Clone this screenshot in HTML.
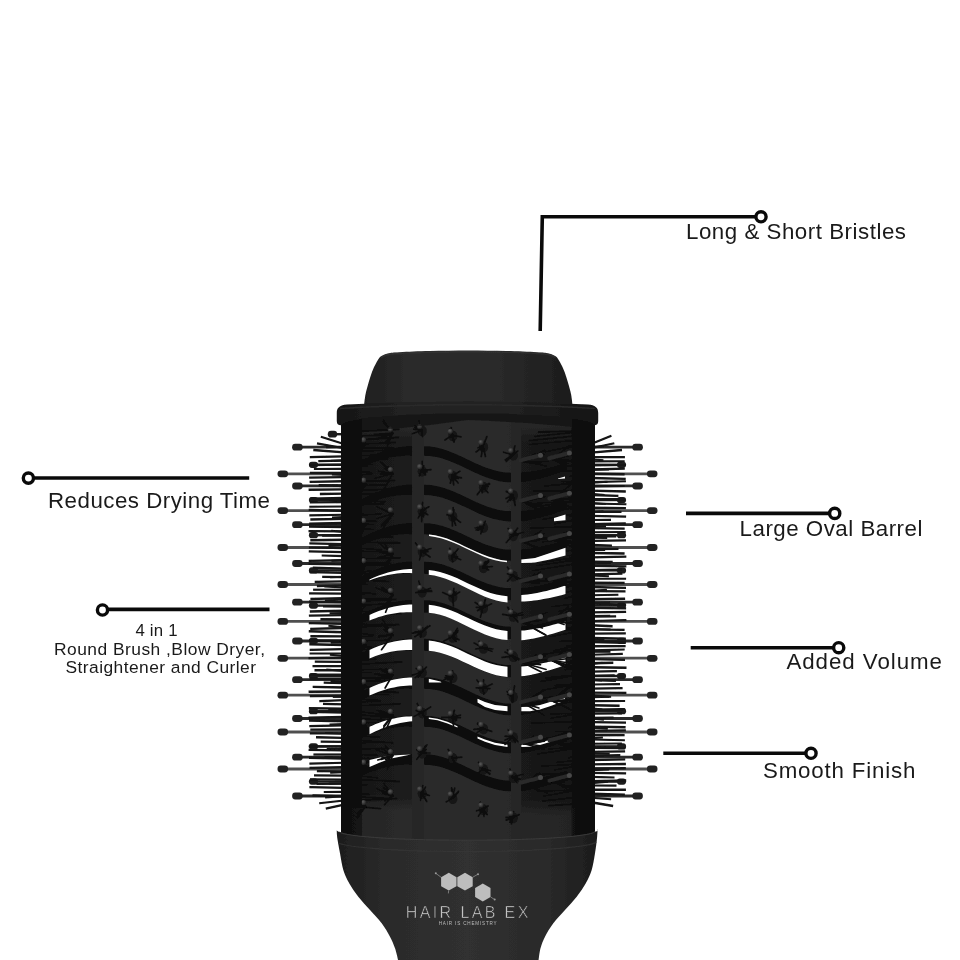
<!DOCTYPE html>
<html lang="en"><head><meta charset="utf-8"><title>Hair Lab EX brush features</title>
<style>
html,body{margin:0;padding:0;background:#fff;}
body{width:960px;height:960px;overflow:hidden;}
svg{display:block;font-family:"Liberation Sans",sans-serif;}
</style></head><body>
<svg width="960" height="960" viewBox="0 0 960 960">
<rect width="960" height="960" fill="#fff"/>
<g id="brush" filter="url(#soft)">
<g id="pins">
<line x1="282.8" y1="473.8" x2="345" y2="473.8" stroke="#505050" stroke-width="2.8"/>
<rect x="277.5" y="470.4" width="10.6" height="6.8" rx="3.2" ry="3.4" fill="#222"/>
<line x1="282.8" y1="510.6" x2="345" y2="510.6" stroke="#505050" stroke-width="2.8"/>
<rect x="277.5" y="507.2" width="10.6" height="6.8" rx="3.2" ry="3.4" fill="#222"/>
<line x1="282.8" y1="547.5" x2="345" y2="547.5" stroke="#505050" stroke-width="2.8"/>
<rect x="277.5" y="544.1" width="10.6" height="6.8" rx="3.2" ry="3.4" fill="#222"/>
<line x1="282.8" y1="584.5" x2="345" y2="584.5" stroke="#505050" stroke-width="2.8"/>
<rect x="277.5" y="581.1" width="10.6" height="6.8" rx="3.2" ry="3.4" fill="#222"/>
<line x1="282.8" y1="621.4" x2="345" y2="621.4" stroke="#505050" stroke-width="2.8"/>
<rect x="277.5" y="618" width="10.6" height="6.8" rx="3.2" ry="3.4" fill="#222"/>
<line x1="282.8" y1="658.2" x2="345" y2="658.2" stroke="#505050" stroke-width="2.8"/>
<rect x="277.5" y="654.9" width="10.6" height="6.8" rx="3.2" ry="3.4" fill="#222"/>
<line x1="282.8" y1="695.1" x2="345" y2="695.1" stroke="#505050" stroke-width="2.8"/>
<rect x="277.5" y="691.8" width="10.6" height="6.8" rx="3.2" ry="3.4" fill="#222"/>
<line x1="282.8" y1="732" x2="345" y2="732" stroke="#505050" stroke-width="2.8"/>
<rect x="277.5" y="728.6" width="10.6" height="6.8" rx="3.2" ry="3.4" fill="#222"/>
<line x1="282.8" y1="769" x2="345" y2="769" stroke="#505050" stroke-width="2.8"/>
<rect x="277.5" y="765.6" width="10.6" height="6.8" rx="3.2" ry="3.4" fill="#222"/>
<line x1="297.4" y1="447.2" x2="345" y2="447.2" stroke="#2a2a2a" stroke-width="2.8"/>
<rect x="292.1" y="443.8" width="10.6" height="6.8" rx="3.2" ry="3.4" fill="#222"/>
<line x1="297.4" y1="485.9" x2="345" y2="485.9" stroke="#2a2a2a" stroke-width="2.8"/>
<rect x="292.1" y="482.6" width="10.6" height="6.8" rx="3.2" ry="3.4" fill="#222"/>
<line x1="297.4" y1="524.7" x2="345" y2="524.7" stroke="#2a2a2a" stroke-width="2.8"/>
<rect x="292.1" y="521.3" width="10.6" height="6.8" rx="3.2" ry="3.4" fill="#222"/>
<line x1="297.4" y1="563.5" x2="345" y2="563.5" stroke="#2a2a2a" stroke-width="2.8"/>
<rect x="292.1" y="560.1" width="10.6" height="6.8" rx="3.2" ry="3.4" fill="#222"/>
<line x1="297.4" y1="602.2" x2="345" y2="602.2" stroke="#2a2a2a" stroke-width="2.8"/>
<rect x="292.1" y="598.8" width="10.6" height="6.8" rx="3.2" ry="3.4" fill="#222"/>
<line x1="297.4" y1="641" x2="345" y2="641" stroke="#2a2a2a" stroke-width="2.8"/>
<rect x="292.1" y="637.6" width="10.6" height="6.8" rx="3.2" ry="3.4" fill="#222"/>
<line x1="297.4" y1="679.7" x2="345" y2="679.7" stroke="#2a2a2a" stroke-width="2.8"/>
<rect x="292.1" y="676.3" width="10.6" height="6.8" rx="3.2" ry="3.4" fill="#222"/>
<line x1="297.4" y1="718.5" x2="345" y2="718.5" stroke="#2a2a2a" stroke-width="2.8"/>
<rect x="292.1" y="715.1" width="10.6" height="6.8" rx="3.2" ry="3.4" fill="#222"/>
<line x1="297.4" y1="757.2" x2="345" y2="757.2" stroke="#2a2a2a" stroke-width="2.8"/>
<rect x="292.1" y="753.8" width="10.6" height="6.8" rx="3.2" ry="3.4" fill="#222"/>
<line x1="297.4" y1="796" x2="345" y2="796" stroke="#2a2a2a" stroke-width="2.8"/>
<rect x="292.1" y="792.6" width="10.6" height="6.8" rx="3.2" ry="3.4" fill="#222"/>
<line x1="313.5" y1="464.8" x2="345" y2="464.8" stroke="#1c1c1c" stroke-width="2.4"/>
<rect x="308.9" y="461.7" width="9.2" height="6.2" rx="2.9" ry="3.1" fill="#1d1d1d"/>
<line x1="313.5" y1="500" x2="345" y2="500" stroke="#1c1c1c" stroke-width="2.4"/>
<rect x="308.9" y="496.9" width="9.2" height="6.2" rx="2.9" ry="3.1" fill="#1d1d1d"/>
<line x1="313.5" y1="535.2" x2="345" y2="535.2" stroke="#1c1c1c" stroke-width="2.4"/>
<rect x="308.9" y="532.1" width="9.2" height="6.2" rx="2.9" ry="3.1" fill="#1d1d1d"/>
<line x1="313.5" y1="570.4" x2="345" y2="570.4" stroke="#1c1c1c" stroke-width="2.4"/>
<rect x="308.9" y="567.3" width="9.2" height="6.2" rx="2.9" ry="3.1" fill="#1d1d1d"/>
<line x1="313.5" y1="605.6" x2="345" y2="605.6" stroke="#1c1c1c" stroke-width="2.4"/>
<rect x="308.9" y="602.5" width="9.2" height="6.2" rx="2.9" ry="3.1" fill="#1d1d1d"/>
<line x1="313.5" y1="640.8" x2="345" y2="640.8" stroke="#1c1c1c" stroke-width="2.4"/>
<rect x="308.9" y="637.7" width="9.2" height="6.2" rx="2.9" ry="3.1" fill="#1d1d1d"/>
<line x1="313.5" y1="676" x2="345" y2="676" stroke="#1c1c1c" stroke-width="2.4"/>
<rect x="308.9" y="672.9" width="9.2" height="6.2" rx="2.9" ry="3.1" fill="#1d1d1d"/>
<line x1="313.5" y1="711.2" x2="345" y2="711.2" stroke="#1c1c1c" stroke-width="2.4"/>
<rect x="308.9" y="708.1" width="9.2" height="6.2" rx="2.9" ry="3.1" fill="#1d1d1d"/>
<line x1="313.5" y1="746.4" x2="345" y2="746.4" stroke="#1c1c1c" stroke-width="2.4"/>
<rect x="308.9" y="743.3" width="9.2" height="6.2" rx="2.9" ry="3.1" fill="#1d1d1d"/>
<line x1="313.5" y1="781.6" x2="345" y2="781.6" stroke="#1c1c1c" stroke-width="2.4"/>
<rect x="308.9" y="778.5" width="9.2" height="6.2" rx="2.9" ry="3.1" fill="#1d1d1d"/>
<line x1="332.5" y1="434.2" x2="345" y2="434.2" stroke="#1c1c1c" stroke-width="2.4"/>
<rect x="327.8" y="430.8" width="9.4" height="6.8" rx="3.2" ry="3.4" fill="#1d1d1d"/>
<line x1="652.2" y1="473.8" x2="590" y2="473.8" stroke="#505050" stroke-width="2.8"/>
<rect x="646.9" y="470.4" width="10.6" height="6.8" rx="3.2" ry="3.4" fill="#222"/>
<line x1="652.2" y1="510.6" x2="590" y2="510.6" stroke="#505050" stroke-width="2.8"/>
<rect x="646.9" y="507.2" width="10.6" height="6.8" rx="3.2" ry="3.4" fill="#222"/>
<line x1="652.2" y1="547.5" x2="590" y2="547.5" stroke="#505050" stroke-width="2.8"/>
<rect x="646.9" y="544.1" width="10.6" height="6.8" rx="3.2" ry="3.4" fill="#222"/>
<line x1="652.2" y1="584.5" x2="590" y2="584.5" stroke="#505050" stroke-width="2.8"/>
<rect x="646.9" y="581.1" width="10.6" height="6.8" rx="3.2" ry="3.4" fill="#222"/>
<line x1="652.2" y1="621.4" x2="590" y2="621.4" stroke="#505050" stroke-width="2.8"/>
<rect x="646.9" y="618" width="10.6" height="6.8" rx="3.2" ry="3.4" fill="#222"/>
<line x1="652.2" y1="658.2" x2="590" y2="658.2" stroke="#505050" stroke-width="2.8"/>
<rect x="646.9" y="654.9" width="10.6" height="6.8" rx="3.2" ry="3.4" fill="#222"/>
<line x1="652.2" y1="695.1" x2="590" y2="695.1" stroke="#505050" stroke-width="2.8"/>
<rect x="646.9" y="691.8" width="10.6" height="6.8" rx="3.2" ry="3.4" fill="#222"/>
<line x1="652.2" y1="732" x2="590" y2="732" stroke="#505050" stroke-width="2.8"/>
<rect x="646.9" y="728.6" width="10.6" height="6.8" rx="3.2" ry="3.4" fill="#222"/>
<line x1="652.2" y1="769" x2="590" y2="769" stroke="#505050" stroke-width="2.8"/>
<rect x="646.9" y="765.6" width="10.6" height="6.8" rx="3.2" ry="3.4" fill="#222"/>
<line x1="637.6" y1="447.2" x2="590" y2="447.2" stroke="#2a2a2a" stroke-width="2.8"/>
<rect x="632.3" y="443.8" width="10.6" height="6.8" rx="3.2" ry="3.4" fill="#222"/>
<line x1="637.6" y1="485.9" x2="590" y2="485.9" stroke="#2a2a2a" stroke-width="2.8"/>
<rect x="632.3" y="482.6" width="10.6" height="6.8" rx="3.2" ry="3.4" fill="#222"/>
<line x1="637.6" y1="524.7" x2="590" y2="524.7" stroke="#2a2a2a" stroke-width="2.8"/>
<rect x="632.3" y="521.3" width="10.6" height="6.8" rx="3.2" ry="3.4" fill="#222"/>
<line x1="637.6" y1="563.5" x2="590" y2="563.5" stroke="#2a2a2a" stroke-width="2.8"/>
<rect x="632.3" y="560.1" width="10.6" height="6.8" rx="3.2" ry="3.4" fill="#222"/>
<line x1="637.6" y1="602.2" x2="590" y2="602.2" stroke="#2a2a2a" stroke-width="2.8"/>
<rect x="632.3" y="598.8" width="10.6" height="6.8" rx="3.2" ry="3.4" fill="#222"/>
<line x1="637.6" y1="641" x2="590" y2="641" stroke="#2a2a2a" stroke-width="2.8"/>
<rect x="632.3" y="637.6" width="10.6" height="6.8" rx="3.2" ry="3.4" fill="#222"/>
<line x1="637.6" y1="679.7" x2="590" y2="679.7" stroke="#2a2a2a" stroke-width="2.8"/>
<rect x="632.3" y="676.3" width="10.6" height="6.8" rx="3.2" ry="3.4" fill="#222"/>
<line x1="637.6" y1="718.5" x2="590" y2="718.5" stroke="#2a2a2a" stroke-width="2.8"/>
<rect x="632.3" y="715.1" width="10.6" height="6.8" rx="3.2" ry="3.4" fill="#222"/>
<line x1="637.6" y1="757.2" x2="590" y2="757.2" stroke="#2a2a2a" stroke-width="2.8"/>
<rect x="632.3" y="753.8" width="10.6" height="6.8" rx="3.2" ry="3.4" fill="#222"/>
<line x1="637.6" y1="796" x2="590" y2="796" stroke="#2a2a2a" stroke-width="2.8"/>
<rect x="632.3" y="792.6" width="10.6" height="6.8" rx="3.2" ry="3.4" fill="#222"/>
<line x1="621.5" y1="464.8" x2="590" y2="464.8" stroke="#1c1c1c" stroke-width="2.4"/>
<rect x="616.9" y="461.7" width="9.2" height="6.2" rx="2.9" ry="3.1" fill="#1d1d1d"/>
<line x1="621.5" y1="500" x2="590" y2="500" stroke="#1c1c1c" stroke-width="2.4"/>
<rect x="616.9" y="496.9" width="9.2" height="6.2" rx="2.9" ry="3.1" fill="#1d1d1d"/>
<line x1="621.5" y1="535.2" x2="590" y2="535.2" stroke="#1c1c1c" stroke-width="2.4"/>
<rect x="616.9" y="532.1" width="9.2" height="6.2" rx="2.9" ry="3.1" fill="#1d1d1d"/>
<line x1="621.5" y1="570.4" x2="590" y2="570.4" stroke="#1c1c1c" stroke-width="2.4"/>
<rect x="616.9" y="567.3" width="9.2" height="6.2" rx="2.9" ry="3.1" fill="#1d1d1d"/>
<line x1="621.5" y1="605.6" x2="590" y2="605.6" stroke="#1c1c1c" stroke-width="2.4"/>
<rect x="616.9" y="602.5" width="9.2" height="6.2" rx="2.9" ry="3.1" fill="#1d1d1d"/>
<line x1="621.5" y1="640.8" x2="590" y2="640.8" stroke="#1c1c1c" stroke-width="2.4"/>
<rect x="616.9" y="637.7" width="9.2" height="6.2" rx="2.9" ry="3.1" fill="#1d1d1d"/>
<line x1="621.5" y1="676" x2="590" y2="676" stroke="#1c1c1c" stroke-width="2.4"/>
<rect x="616.9" y="672.9" width="9.2" height="6.2" rx="2.9" ry="3.1" fill="#1d1d1d"/>
<line x1="621.5" y1="711.2" x2="590" y2="711.2" stroke="#1c1c1c" stroke-width="2.4"/>
<rect x="616.9" y="708.1" width="9.2" height="6.2" rx="2.9" ry="3.1" fill="#1d1d1d"/>
<line x1="621.5" y1="746.4" x2="590" y2="746.4" stroke="#1c1c1c" stroke-width="2.4"/>
<rect x="616.9" y="743.3" width="9.2" height="6.2" rx="2.9" ry="3.1" fill="#1d1d1d"/>
<line x1="621.5" y1="781.6" x2="590" y2="781.6" stroke="#1c1c1c" stroke-width="2.4"/>
<rect x="616.9" y="778.5" width="9.2" height="6.2" rx="2.9" ry="3.1" fill="#1d1d1d"/>
</g>
<g id="bristles" stroke="#131313" stroke-linecap="butt">
<line x1="320.8" y1="436.8" x2="344" y2="444" stroke-width="2.1"/>
<line x1="317" y1="443.4" x2="344" y2="448.2" stroke-width="2.1"/>
<line x1="313.3" y1="450" x2="344" y2="452.4" stroke-width="2.4"/>
<line x1="309.8" y1="457.2" x2="344" y2="456.4" stroke-width="2.3"/>
<line x1="318.3" y1="461.2" x2="344" y2="460.6" stroke-width="2.2"/>
<line x1="309.1" y1="465.2" x2="344" y2="464.7" stroke-width="2.2"/>
<line x1="313.9" y1="469" x2="344" y2="468.9" stroke-width="2.1"/>
<line x1="309.9" y1="472.8" x2="344" y2="472.9" stroke-width="2.2"/>
<line x1="309.1" y1="477.7" x2="344" y2="477.1" stroke-width="2.3"/>
<line x1="309.6" y1="481.9" x2="344" y2="481.2" stroke-width="2.4"/>
<line x1="318.7" y1="485.2" x2="344" y2="485.4" stroke-width="2.4"/>
<line x1="308.6" y1="489.7" x2="344" y2="489.4" stroke-width="2.4"/>
<line x1="319.9" y1="494" x2="344" y2="493.6" stroke-width="2.3"/>
<line x1="310.2" y1="498.7" x2="344" y2="497.9" stroke-width="2.3"/>
<line x1="309.9" y1="502.4" x2="344" y2="502.1" stroke-width="2.4"/>
<line x1="309.3" y1="506.8" x2="344" y2="506.5" stroke-width="2.1"/>
<line x1="308.7" y1="509.9" x2="344" y2="510.7" stroke-width="2.4"/>
<line x1="309.3" y1="515.4" x2="344" y2="514.7" stroke-width="2.1"/>
<line x1="310.3" y1="519.5" x2="344" y2="518.9" stroke-width="2.4"/>
<line x1="309.2" y1="523.7" x2="344" y2="523" stroke-width="2.4"/>
<line x1="309" y1="526.6" x2="344" y2="527.1" stroke-width="2.3"/>
<line x1="308.5" y1="531.2" x2="344" y2="531.3" stroke-width="2.2"/>
<line x1="322.1" y1="535.6" x2="344" y2="535.5" stroke-width="2.3"/>
<line x1="310.3" y1="540.3" x2="344" y2="539.8" stroke-width="2.4"/>
<line x1="309.3" y1="543.4" x2="344" y2="544.1" stroke-width="2.3"/>
<line x1="308.9" y1="547.5" x2="344" y2="548.1" stroke-width="2.2"/>
<line x1="308.8" y1="551.4" x2="344" y2="552.2" stroke-width="2.2"/>
<line x1="321.7" y1="555.5" x2="344" y2="556.2" stroke-width="2.2"/>
<line x1="308.7" y1="560.9" x2="344" y2="560.3" stroke-width="2.4"/>
<line x1="308.7" y1="563.8" x2="344" y2="564.5" stroke-width="2.2"/>
<line x1="312.8" y1="567.7" x2="344" y2="568.6" stroke-width="2.4"/>
<line x1="309.6" y1="572" x2="344" y2="572.8" stroke-width="2.3"/>
<line x1="322.2" y1="576.8" x2="344" y2="577.2" stroke-width="2.2"/>
<line x1="314.7" y1="581.8" x2="344" y2="581.3" stroke-width="2.2"/>
<line x1="316.9" y1="586" x2="344" y2="585.4" stroke-width="2.4"/>
<line x1="313.1" y1="589.7" x2="344" y2="589.7" stroke-width="2.2"/>
<line x1="309.1" y1="593.3" x2="344" y2="593.7" stroke-width="2.3"/>
<line x1="310.4" y1="599" x2="344" y2="598.1" stroke-width="2.4"/>
<line x1="309" y1="601.7" x2="344" y2="602.2" stroke-width="2.2"/>
<line x1="323" y1="606.4" x2="344" y2="606.5" stroke-width="2.3"/>
<line x1="309.8" y1="611.5" x2="344" y2="610.8" stroke-width="2.4"/>
<line x1="308.9" y1="615.6" x2="344" y2="615.1" stroke-width="2.2"/>
<line x1="320.4" y1="619.2" x2="344" y2="619.4" stroke-width="2.4"/>
<line x1="308.8" y1="623.1" x2="344" y2="623.7" stroke-width="2.4"/>
<line x1="310.2" y1="628.9" x2="344" y2="628" stroke-width="2.3"/>
<line x1="308.8" y1="631.3" x2="344" y2="632.2" stroke-width="2.4"/>
<line x1="310.4" y1="636.3" x2="344" y2="636.4" stroke-width="2.4"/>
<line x1="309" y1="640.4" x2="344" y2="640.8" stroke-width="2.2"/>
<line x1="309.3" y1="644.3" x2="344" y2="645" stroke-width="2.4"/>
<line x1="309.7" y1="649.9" x2="344" y2="649.1" stroke-width="2.2"/>
<line x1="309.6" y1="653.5" x2="344" y2="653.5" stroke-width="2.1"/>
<line x1="308.5" y1="658.2" x2="344" y2="657.7" stroke-width="2.2"/>
<line x1="314.8" y1="661.6" x2="344" y2="661.9" stroke-width="2.3"/>
<line x1="312.5" y1="666.2" x2="344" y2="666.1" stroke-width="2.2"/>
<line x1="314.5" y1="670.3" x2="344" y2="670.2" stroke-width="2.4"/>
<line x1="309.7" y1="674.6" x2="344" y2="674.6" stroke-width="2.3"/>
<line x1="309.6" y1="678.8" x2="344" y2="678.8" stroke-width="2.4"/>
<line x1="323.7" y1="682.7" x2="344" y2="683.1" stroke-width="2.3"/>
<line x1="312.7" y1="686.8" x2="344" y2="687.5" stroke-width="2.3"/>
<line x1="308.6" y1="691.8" x2="344" y2="691.5" stroke-width="2.4"/>
<line x1="309.9" y1="696.2" x2="344" y2="695.9" stroke-width="2.2"/>
<line x1="319.3" y1="701.1" x2="344" y2="700.2" stroke-width="2.2"/>
<line x1="323" y1="703.8" x2="344" y2="704.4" stroke-width="2.3"/>
<line x1="308.9" y1="708.3" x2="344" y2="708.6" stroke-width="2.4"/>
<line x1="309.4" y1="711.8" x2="344" y2="712.7" stroke-width="2.2"/>
<line x1="308.6" y1="717.8" x2="344" y2="716.9" stroke-width="2.4"/>
<line x1="309" y1="720.5" x2="344" y2="721.3" stroke-width="2.4"/>
<line x1="309.3" y1="726.1" x2="344" y2="725.4" stroke-width="2.4"/>
<line x1="310.3" y1="729.6" x2="344" y2="729.5" stroke-width="2.3"/>
<line x1="309.9" y1="733.4" x2="344" y2="733.5" stroke-width="2.1"/>
<line x1="316" y1="737.2" x2="344" y2="737.9" stroke-width="2.4"/>
<line x1="320.7" y1="741.6" x2="344" y2="741.9" stroke-width="2.3"/>
<line x1="308.8" y1="746.4" x2="344" y2="746.3" stroke-width="2.2"/>
<line x1="308.6" y1="749.8" x2="344" y2="750.4" stroke-width="2.2"/>
<line x1="313.4" y1="754.5" x2="344" y2="754.5" stroke-width="2.2"/>
<line x1="309" y1="757.7" x2="344" y2="758.6" stroke-width="2.4"/>
<line x1="309.4" y1="763.6" x2="344" y2="762.8" stroke-width="2.1"/>
<line x1="309.5" y1="767.8" x2="344" y2="767.2" stroke-width="2.2"/>
<line x1="316.9" y1="771.1" x2="344" y2="771.4" stroke-width="2.4"/>
<line x1="314" y1="775.4" x2="344" y2="775.6" stroke-width="2.1"/>
<line x1="310" y1="779.3" x2="344" y2="779.7" stroke-width="2.2"/>
<line x1="316.4" y1="784" x2="344" y2="783.7" stroke-width="2.2"/>
<line x1="309.4" y1="787.2" x2="344" y2="787.8" stroke-width="2.3"/>
<line x1="323.8" y1="792" x2="344" y2="791.9" stroke-width="2.2"/>
<line x1="312.5" y1="795.4" x2="344" y2="796.3" stroke-width="2.2"/>
<line x1="319.2" y1="803.3" x2="344" y2="800.5" stroke-width="2.1"/>
<line x1="325.8" y1="808.6" x2="344" y2="804.6" stroke-width="2.1"/>
<line x1="326.1" y1="447.3" x2="344" y2="447" stroke-width="2"/>
<line x1="330.8" y1="460.7" x2="344" y2="460.2" stroke-width="2"/>
<line x1="331.9" y1="474.6" x2="344" y2="475" stroke-width="2"/>
<line x1="332.9" y1="485.5" x2="344" y2="486.6" stroke-width="2"/>
<line x1="329.8" y1="500" x2="344" y2="501.4" stroke-width="2"/>
<line x1="332" y1="517.4" x2="344" y2="517" stroke-width="2"/>
<line x1="331.3" y1="530.8" x2="344" y2="531.9" stroke-width="2"/>
<line x1="328.5" y1="546.1" x2="344" y2="545.1" stroke-width="2"/>
<line x1="331.4" y1="560.8" x2="344" y2="560.5" stroke-width="2"/>
<line x1="330.1" y1="577.3" x2="344" y2="576.7" stroke-width="2"/>
<line x1="324.3" y1="586.4" x2="344" y2="587.5" stroke-width="2"/>
<line x1="324.9" y1="600.4" x2="344" y2="599.4" stroke-width="2"/>
<line x1="329.6" y1="613.3" x2="344" y2="612.9" stroke-width="2"/>
<line x1="328.4" y1="625.8" x2="344" y2="627.3" stroke-width="2"/>
<line x1="330.7" y1="642.7" x2="344" y2="642.7" stroke-width="2"/>
<line x1="329.9" y1="654.7" x2="344" y2="656" stroke-width="2"/>
<line x1="326.3" y1="669.6" x2="344" y2="670.9" stroke-width="2"/>
<line x1="330.6" y1="681.1" x2="344" y2="682" stroke-width="2"/>
<line x1="332.8" y1="696.9" x2="344" y2="696.9" stroke-width="2"/>
<line x1="328.3" y1="709.5" x2="344" y2="709" stroke-width="2"/>
<line x1="329.6" y1="724.6" x2="344" y2="724.1" stroke-width="2"/>
<line x1="325.3" y1="733" x2="344" y2="733.7" stroke-width="2"/>
<line x1="326.7" y1="748.9" x2="344" y2="748.7" stroke-width="2"/>
<line x1="324.5" y1="757.1" x2="344" y2="757.8" stroke-width="2"/>
<line x1="330.2" y1="772.7" x2="344" y2="772.2" stroke-width="2"/>
<line x1="328.6" y1="783.4" x2="344" y2="783.5" stroke-width="2"/>
<line x1="325.1" y1="797.4" x2="344" y2="796.2" stroke-width="2"/>
<line x1="611.4" y1="435.7" x2="591" y2="444" stroke-width="2.3"/>
<line x1="614.3" y1="443.2" x2="591" y2="448.3" stroke-width="2.2"/>
<line x1="622" y1="450" x2="591" y2="452.7" stroke-width="2.3"/>
<line x1="624.9" y1="457.1" x2="591" y2="457.1" stroke-width="2.4"/>
<line x1="624.7" y1="461.3" x2="591" y2="461.4" stroke-width="2.1"/>
<line x1="625.6" y1="465" x2="591" y2="465.4" stroke-width="2.1"/>
<line x1="624.8" y1="468.6" x2="591" y2="469.5" stroke-width="2.4"/>
<line x1="624.6" y1="474.2" x2="591" y2="473.8" stroke-width="2.4"/>
<line x1="625.7" y1="478.9" x2="591" y2="478" stroke-width="2.3"/>
<line x1="625.9" y1="481.3" x2="591" y2="482.1" stroke-width="2.1"/>
<line x1="624.6" y1="486" x2="591" y2="486.4" stroke-width="2.2"/>
<line x1="625.8" y1="491.5" x2="591" y2="490.6" stroke-width="2.4"/>
<line x1="618.4" y1="495.8" x2="591" y2="495" stroke-width="2.3"/>
<line x1="625" y1="499.2" x2="591" y2="499.3" stroke-width="2.4"/>
<line x1="626.4" y1="504.3" x2="591" y2="503.5" stroke-width="2.1"/>
<line x1="625.9" y1="508.1" x2="591" y2="507.7" stroke-width="2.4"/>
<line x1="621.5" y1="511.9" x2="591" y2="511.8" stroke-width="2.2"/>
<line x1="626.1" y1="516.6" x2="591" y2="515.9" stroke-width="2.3"/>
<line x1="611" y1="519.9" x2="591" y2="520" stroke-width="2.1"/>
<line x1="625.8" y1="523.3" x2="591" y2="524" stroke-width="2.2"/>
<line x1="624.7" y1="528.6" x2="591" y2="528.1" stroke-width="2.2"/>
<line x1="625.7" y1="532" x2="591" y2="532.3" stroke-width="2.1"/>
<line x1="616.2" y1="536.4" x2="591" y2="536.4" stroke-width="2.3"/>
<line x1="626" y1="540.3" x2="591" y2="540.8" stroke-width="2.2"/>
<line x1="611.9" y1="545.6" x2="591" y2="544.9" stroke-width="2.1"/>
<line x1="618.5" y1="548.9" x2="591" y2="549" stroke-width="2.3"/>
<line x1="624.6" y1="553.5" x2="591" y2="553" stroke-width="2.4"/>
<line x1="626.3" y1="556.7" x2="591" y2="557.3" stroke-width="2.3"/>
<line x1="612.7" y1="561.9" x2="591" y2="561.6" stroke-width="2.4"/>
<line x1="626.4" y1="566.3" x2="591" y2="565.8" stroke-width="2.2"/>
<line x1="621.5" y1="569.5" x2="591" y2="570.2" stroke-width="2.2"/>
<line x1="622.4" y1="573.6" x2="591" y2="574.4" stroke-width="2.3"/>
<line x1="626.1" y1="578.8" x2="591" y2="578.7" stroke-width="2.1"/>
<line x1="624.6" y1="583" x2="591" y2="582.8" stroke-width="2.4"/>
<line x1="626" y1="587.8" x2="591" y2="587" stroke-width="2.3"/>
<line x1="625.5" y1="591.4" x2="591" y2="591.1" stroke-width="2.2"/>
<line x1="618.4" y1="594.7" x2="591" y2="595.2" stroke-width="2.1"/>
<line x1="625.1" y1="598.8" x2="591" y2="599.3" stroke-width="2.4"/>
<line x1="626.1" y1="604.5" x2="591" y2="603.6" stroke-width="2.2"/>
<line x1="626.1" y1="608.4" x2="591" y2="607.9" stroke-width="2.2"/>
<line x1="626.1" y1="611.8" x2="591" y2="612.3" stroke-width="2.2"/>
<line x1="616.1" y1="616.4" x2="591" y2="616.6" stroke-width="2.2"/>
<line x1="626.4" y1="620.2" x2="591" y2="621" stroke-width="2.2"/>
<line x1="612.6" y1="626.2" x2="591" y2="625.3" stroke-width="2.4"/>
<line x1="624.6" y1="629.9" x2="591" y2="629.5" stroke-width="2.1"/>
<line x1="625.8" y1="633.4" x2="591" y2="633.7" stroke-width="2.2"/>
<line x1="625.8" y1="638.6" x2="591" y2="637.7" stroke-width="2.1"/>
<line x1="625.8" y1="642.7" x2="591" y2="642.1" stroke-width="2.4"/>
<line x1="625.6" y1="646.1" x2="591" y2="646.3" stroke-width="2.4"/>
<line x1="624.7" y1="649.5" x2="591" y2="650.4" stroke-width="2.2"/>
<line x1="622.8" y1="653.9" x2="591" y2="654.7" stroke-width="2.1"/>
<line x1="625" y1="659.8" x2="591" y2="659.1" stroke-width="2.2"/>
<line x1="613.3" y1="662.8" x2="591" y2="663.2" stroke-width="2.4"/>
<line x1="626.5" y1="667.8" x2="591" y2="667.3" stroke-width="2.4"/>
<line x1="616.9" y1="671.1" x2="591" y2="671.6" stroke-width="2.3"/>
<line x1="614.7" y1="675.5" x2="591" y2="675.9" stroke-width="2.3"/>
<line x1="615.9" y1="680.7" x2="591" y2="680.1" stroke-width="2.4"/>
<line x1="620" y1="684.2" x2="591" y2="684.5" stroke-width="2.2"/>
<line x1="622.6" y1="688.1" x2="591" y2="688.6" stroke-width="2.4"/>
<line x1="626.4" y1="692.8" x2="591" y2="692.7" stroke-width="2.2"/>
<line x1="611.1" y1="696.7" x2="591" y2="697.1" stroke-width="2.1"/>
<line x1="625.1" y1="701" x2="591" y2="701.1" stroke-width="2.2"/>
<line x1="619.6" y1="705.8" x2="591" y2="705.3" stroke-width="2.4"/>
<line x1="624.8" y1="709.2" x2="591" y2="709.6" stroke-width="2.3"/>
<line x1="622" y1="713.3" x2="591" y2="713.7" stroke-width="2.2"/>
<line x1="613.5" y1="717.5" x2="591" y2="717.8" stroke-width="2.2"/>
<line x1="626" y1="722.7" x2="591" y2="722.2" stroke-width="2.3"/>
<line x1="625.6" y1="727.2" x2="591" y2="726.6" stroke-width="2.4"/>
<line x1="625.9" y1="730.3" x2="591" y2="730.9" stroke-width="2.2"/>
<line x1="624.6" y1="735.1" x2="591" y2="735.3" stroke-width="2.4"/>
<line x1="624.9" y1="740.3" x2="591" y2="739.5" stroke-width="2.1"/>
<line x1="621.9" y1="743.5" x2="591" y2="743.8" stroke-width="2.1"/>
<line x1="625.3" y1="748.1" x2="591" y2="747.8" stroke-width="2.2"/>
<line x1="625.1" y1="751.3" x2="591" y2="751.8" stroke-width="2.2"/>
<line x1="620.3" y1="755.1" x2="591" y2="755.9" stroke-width="2.1"/>
<line x1="625.2" y1="759.3" x2="591" y2="760.1" stroke-width="2.2"/>
<line x1="625.9" y1="764" x2="591" y2="764.4" stroke-width="2.4"/>
<line x1="625.8" y1="768.3" x2="591" y2="768.5" stroke-width="2.4"/>
<line x1="626.1" y1="773.3" x2="591" y2="772.9" stroke-width="2.2"/>
<line x1="614.5" y1="777.5" x2="591" y2="776.9" stroke-width="2.2"/>
<line x1="626.2" y1="780.4" x2="591" y2="781.2" stroke-width="2.3"/>
<line x1="616.5" y1="785.7" x2="591" y2="785.5" stroke-width="2.2"/>
<line x1="625.9" y1="789.7" x2="591" y2="789.7" stroke-width="2.4"/>
<line x1="624.9" y1="794.6" x2="591" y2="793.7" stroke-width="2.2"/>
<line x1="611.1" y1="799.2" x2="591" y2="797.8" stroke-width="2.1"/>
<line x1="613.1" y1="806" x2="591" y2="802.2" stroke-width="2.4"/>
<line x1="603.9" y1="446.2" x2="591" y2="447" stroke-width="2"/>
<line x1="603.4" y1="460.2" x2="591" y2="459.2" stroke-width="2"/>
<line x1="609" y1="469.4" x2="591" y2="469.7" stroke-width="2"/>
<line x1="607.5" y1="481.7" x2="591" y2="482.8" stroke-width="2"/>
<line x1="604.5" y1="495" x2="591" y2="493.8" stroke-width="2"/>
<line x1="605.9" y1="503.9" x2="591" y2="503.1" stroke-width="2"/>
<line x1="603.5" y1="511.3" x2="591" y2="512.5" stroke-width="2"/>
<line x1="606" y1="526.6" x2="591" y2="526.2" stroke-width="2"/>
<line x1="607.2" y1="537.9" x2="591" y2="537.7" stroke-width="2"/>
<line x1="605.1" y1="549.9" x2="591" y2="550.1" stroke-width="2"/>
<line x1="610.8" y1="563" x2="591" y2="562.6" stroke-width="2"/>
<line x1="608.9" y1="576.3" x2="591" y2="575.5" stroke-width="2"/>
<line x1="606.9" y1="589.8" x2="591" y2="590.8" stroke-width="2"/>
<line x1="610" y1="602.4" x2="591" y2="603.6" stroke-width="2"/>
<line x1="610.2" y1="615.8" x2="591" y2="616" stroke-width="2"/>
<line x1="610.6" y1="629.5" x2="591" y2="629.1" stroke-width="2"/>
<line x1="604.4" y1="639.6" x2="591" y2="638.7" stroke-width="2"/>
<line x1="610.5" y1="651.8" x2="591" y2="651.8" stroke-width="2"/>
<line x1="602.4" y1="662.8" x2="591" y2="663.9" stroke-width="2"/>
<line x1="602" y1="680.4" x2="591" y2="679.7" stroke-width="2"/>
<line x1="609.3" y1="696.7" x2="591" y2="695.2" stroke-width="2"/>
<line x1="602.4" y1="709.4" x2="591" y2="708.2" stroke-width="2"/>
<line x1="603.9" y1="719.8" x2="591" y2="718.5" stroke-width="2"/>
<line x1="607.8" y1="728.8" x2="591" y2="728" stroke-width="2"/>
<line x1="602.9" y1="737.6" x2="591" y2="738.3" stroke-width="2"/>
<line x1="609.7" y1="753.8" x2="591" y2="753.8" stroke-width="2"/>
<line x1="609.1" y1="769.5" x2="591" y2="770.2" stroke-width="2"/>
<line x1="608.1" y1="781.8" x2="591" y2="783.2" stroke-width="2"/>
<line x1="609.5" y1="795" x2="591" y2="793.7" stroke-width="2"/>
</g>
<defs>
<linearGradient id="gBody" x1="0" x2="1" y1="0" y2="0">
<stop offset="0" stop-color="#0f0f0f"/><stop offset="0.08" stop-color="#131313"/>
<stop offset="0.085" stop-color="#262626"/><stop offset="0.3" stop-color="#2b2b2b"/>
<stop offset="0.6" stop-color="#2a2a2a"/><stop offset="0.905" stop-color="#242424"/>
<stop offset="0.91" stop-color="#121212"/><stop offset="1" stop-color="#0d0d0d"/>
</linearGradient>
<linearGradient id="gDk" x1="0" x2="0" y1="0" y2="1">
<stop offset="0" stop-color="#0b0b0b" stop-opacity="0"/><stop offset="0.04" stop-color="#0b0b0b" stop-opacity="0.5"/>
<stop offset="0.96" stop-color="#0b0b0b" stop-opacity="0.5"/><stop offset="1" stop-color="#0b0b0b" stop-opacity="0"/>
</linearGradient>
<linearGradient id="gCap" x1="0" x2="1" y1="0" y2="0">
<stop offset="0" stop-color="#1f1f1f"/><stop offset="0.25" stop-color="#2c2c2c"/><stop offset="0.6" stop-color="#2b2b2b"/><stop offset="1" stop-color="#1c1c1c"/>
</linearGradient>
<linearGradient id="gFl" x1="0" x2="1" y1="0" y2="0">
<stop offset="0" stop-color="#161616"/><stop offset="0.3" stop-color="#232323"/><stop offset="0.7" stop-color="#202020"/><stop offset="1" stop-color="#131313"/>
</linearGradient>
<linearGradient id="gCol" x1="0" x2="1" y1="0" y2="0">
<stop offset="0" stop-color="#1d1d1d"/><stop offset="0.2" stop-color="#2b2b2b"/><stop offset="0.5" stop-color="#303030"/><stop offset="0.8" stop-color="#2a2a2a"/><stop offset="1" stop-color="#1c1c1c"/>
</linearGradient>
<filter id="soft" x="0" y="0" width="960" height="960" filterUnits="userSpaceOnUse"><feGaussianBlur stdDeviation="0.45"/></filter>
<radialGradient id="gNub" cx="0.4" cy="0.35" r="0.7">
<stop offset="0" stop-color="#5a5a5a"/><stop offset="0.6" stop-color="#333"/><stop offset="1" stop-color="#1a1a1a"/>
</radialGradient>
</defs>
<rect x="341" y="412" width="254" height="434" fill="url(#gBody)"/>
<g id="slots" fill="#0b0b0b">
<polygon points="362,460.5 365.6,458.6 369.2,456.8 372.8,455.2 376.4,453.7 380,452.4 383.6,451.1 387.1,450 390.7,449.1 394.3,448.2 397.9,447.5 401.5,447 405.1,446.6 408.7,446.3 412.3,446.2 412.3,455.7 408.7,455.6 405.1,455.6 401.5,455.9 397.9,456.2 394.3,456.7 390.7,457.3 387.1,458.1 383.6,459 380,460 376.4,461.2 372.8,462.5 369.2,463.9 365.6,465.4 362,467.1"/>
<polygon points="424,446.2 430.2,446.5 436.4,447.5 442.6,449.1 448.9,451.2 455.1,453.7 461.3,456.5 467.5,459.4 473.7,462.4 479.9,465.2 486.1,467.7 492.4,469.8 498.6,471.4 504.8,472.4 511,472.7 511,482.2 504.8,481.9 498.6,480.9 492.4,479.3 486.1,477.2 479.9,474.7 473.7,471.9 467.5,468.9 461.3,466 455.1,463.2 448.9,460.7 442.6,458.6 436.4,457 430.2,456 424,455.7"/>
<polygon points="521,472.5 524.3,472.3 527.6,472 530.9,471.5 534.1,471 537.4,470.4 540.7,469.7 544,469 547.3,468.2 550.6,467.4 553.9,466.5 557.1,465.5 560.4,464.6 563.7,463.6 567,462.5 567,470.1 563.7,471.3 560.4,472.4 557.1,473.6 553.9,474.6 550.6,475.6 547.3,476.6 544,477.5 540.7,478.4 537.4,479.2 534.1,479.9 530.9,480.6 527.6,481.2 524.3,481.7 521,482"/>
<polygon points="362,499 365.6,497.1 369.2,495.3 372.8,493.7 376.4,492.2 380,490.9 383.6,489.6 387.1,488.5 390.7,487.6 394.3,486.7 397.9,486 401.5,485.5 405.1,485.1 408.7,484.8 412.3,484.7 412.3,494.9 408.7,494.8 405.1,494.8 401.5,495 397.9,495.3 394.3,495.8 390.7,496.4 387.1,497.2 383.6,498.1 380,499.1 376.4,500.2 372.8,501.5 369.2,502.9 365.6,504.5 362,506.1"/>
<polygon points="424,484.7 430.2,485 436.4,486 442.6,487.6 448.9,489.7 455.1,492.2 461.3,495 467.5,497.9 473.7,500.9 479.9,503.7 486.1,506.2 492.4,508.3 498.6,509.9 504.8,510.9 511,511.2 511,521.4 504.8,521.1 498.6,520.1 492.4,518.5 486.1,516.4 479.9,513.9 473.7,511.1 467.5,508.1 461.3,505.2 455.1,502.4 448.9,499.9 442.6,497.8 436.4,496.2 430.2,495.2 424,494.9"/>
<polygon points="521,511 524.3,510.8 527.6,510.5 530.9,510 534.1,509.5 537.4,508.9 540.7,508.2 544,507.5 547.3,506.7 550.6,505.9 553.9,505 557.1,504 560.4,503.1 563.7,502.1 567,501 567,509.2 563.7,510.4 560.4,511.5 557.1,512.6 553.9,513.7 550.6,514.7 547.3,515.7 544,516.6 540.7,517.5 537.4,518.3 534.1,519.1 530.9,519.8 527.6,520.4 524.3,520.9 521,521.2"/>
<polygon points="362,537.5 365.6,535.6 369.2,533.8 372.8,532.2 376.4,530.7 380,529.4 383.6,528.1 387.1,527 390.7,526.1 394.3,525.2 397.9,524.5 401.5,524 405.1,523.6 408.7,523.3 412.3,523.2 412.3,534.2 408.7,534.1 405.1,534.1 401.5,534.3 397.9,534.6 394.3,535 390.7,535.6 387.1,536.4 383.6,537.2 380,538.2 376.4,539.4 372.8,540.6 369.2,542 365.6,543.5 362,545.2"/>
<polygon points="424,523.2 430.2,523.5 436.4,524.5 442.6,526.1 448.9,528.2 455.1,530.7 461.3,533.5 467.5,536.5 473.7,539.4 479.9,542.2 486.1,544.7 492.4,546.8 498.6,548.4 504.8,549.4 511,549.7 511,560.7 504.8,560.4 498.6,559.4 492.4,557.8 486.1,555.7 479.9,553.2 473.7,550.4 467.5,547.5 461.3,544.5 455.1,541.7 448.9,539.2 442.6,537.1 436.4,535.5 430.2,534.5 424,534.2"/>
<polygon points="521,549.5 524.3,549.3 527.6,549 530.9,548.5 534.1,548 537.4,547.4 540.7,546.7 544,546 547.3,545.2 550.6,544.4 553.9,543.5 557.1,542.5 560.4,541.6 563.7,540.6 567,539.5 567,548.3 563.7,549.5 560.4,550.7 557.1,551.8 553.9,552.9 550.6,553.9 547.3,554.9 544,555.9 540.7,556.8 537.4,557.6 534.1,558.3 530.9,559 527.6,559.6 524.3,560.2 521,560.5"/>
<polygon points="362,576 365.6,574.1 369.2,572.3 372.8,570.7 376.4,569.2 380,567.9 383.6,566.6 387.1,565.5 390.7,564.6 394.3,563.7 397.9,563 401.5,562.5 405.1,562.1 408.7,561.8 412.3,561.7 412.3,573.7 408.7,573.5 405.1,573.5 401.5,573.7 397.9,574 394.3,574.4 390.7,575 387.1,575.7 383.6,576.6 380,577.5 376.4,578.7 372.8,579.9 369.2,581.3 365.6,582.8 362,584.4"/>
<polygon points="424,561.7 430.2,562 436.4,563 442.6,564.6 448.9,566.7 455.1,569.2 461.3,572 467.5,575 473.7,577.9 479.9,580.7 486.1,583.2 492.4,585.3 498.6,586.9 504.8,587.9 511,588.2 511,600.2 504.8,599.9 498.6,598.9 492.4,597.3 486.1,595.2 479.9,592.7 473.7,589.9 467.5,587 461.3,584 455.1,581.2 448.9,578.7 442.6,576.6 436.4,575 430.2,574 424,573.7"/>
<polygon points="521,588 524.3,587.8 527.6,587.5 530.9,587 534.1,586.5 537.4,585.9 540.7,585.2 544,584.5 547.3,583.7 550.6,582.9 553.9,582 557.1,581 560.4,580.1 563.7,579.1 567,578 567,587.6 563.7,588.8 560.4,590 557.1,591.2 553.9,592.3 550.6,593.3 547.3,594.3 544,595.3 540.7,596.2 537.4,597 534.1,597.8 530.9,598.5 527.6,599.1 524.3,599.6 521,600"/>
<polygon points="362,614.5 365.6,612.6 369.2,610.8 372.8,609.2 376.4,607.7 380,606.4 383.6,605.1 387.1,604 390.7,603.1 394.3,602.2 397.9,601.5 401.5,601 405.1,600.6 408.7,600.3 412.3,600.2 412.3,612.5 408.7,612.3 405.1,612.3 401.5,612.5 397.9,612.8 394.3,613.2 390.7,613.8 387.1,614.5 383.6,615.3 380,616.3 376.4,617.4 372.8,618.6 369.2,620 365.6,621.5 362,623.1"/>
<polygon points="424,600.2 430.2,600.5 436.4,601.5 442.6,603.1 448.9,605.2 455.1,607.7 461.3,610.5 467.5,613.5 473.7,616.4 479.9,619.2 486.1,621.7 492.4,623.8 498.6,625.4 504.8,626.4 511,626.7 511,639 504.8,638.7 498.6,637.7 492.4,636.1 486.1,634 479.9,631.5 473.7,628.7 467.5,625.8 461.3,622.8 455.1,620 448.9,617.5 442.6,615.4 436.4,613.8 430.2,612.8 424,612.5"/>
<polygon points="521,626.5 524.3,626.3 527.6,626 530.9,625.5 534.1,625 537.4,624.4 540.7,623.7 544,623 547.3,622.2 550.6,621.4 553.9,620.5 557.1,619.5 560.4,618.6 563.7,617.6 567,616.5 567,626.4 563.7,627.6 560.4,628.8 557.1,629.9 553.9,631 550.6,632.1 547.3,633.1 544,634 540.7,634.9 537.4,635.8 534.1,636.6 530.9,637.3 527.6,637.9 524.3,638.4 521,638.8"/>
<polygon points="362,653 365.6,651.1 369.2,649.3 372.8,647.7 376.4,646.2 380,644.9 383.6,643.6 387.1,642.5 390.7,641.6 394.3,640.7 397.9,640 401.5,639.5 405.1,639.1 408.7,638.8 412.3,638.7 412.3,650.7 408.7,650.5 405.1,650.5 401.5,650.7 397.9,651 394.3,651.4 390.7,652 387.1,652.7 383.6,653.6 380,654.5 376.4,655.7 372.8,656.9 369.2,658.3 365.6,659.8 362,661.4"/>
<polygon points="424,638.7 430.2,639 436.4,640 442.6,641.6 448.9,643.7 455.1,646.2 461.3,649 467.5,652 473.7,654.9 479.9,657.7 486.1,660.2 492.4,662.3 498.6,663.9 504.8,664.9 511,665.2 511,677.2 504.8,676.9 498.6,675.9 492.4,674.3 486.1,672.2 479.9,669.7 473.7,666.9 467.5,664 461.3,661 455.1,658.2 448.9,655.7 442.6,653.6 436.4,652 430.2,651 424,650.7"/>
<polygon points="521,665 524.3,664.8 527.6,664.5 530.9,664 534.1,663.5 537.4,662.9 540.7,662.2 544,661.5 547.3,660.7 550.6,659.9 553.9,659 557.1,658 560.4,657.1 563.7,656.1 567,655 567,664.6 563.7,665.8 560.4,667 557.1,668.2 553.9,669.3 550.6,670.3 547.3,671.3 544,672.3 540.7,673.2 537.4,674 534.1,674.8 530.9,675.5 527.6,676.1 524.3,676.6 521,677"/>
<polygon points="362,691.5 365.6,689.6 369.2,687.8 372.8,686.2 376.4,684.7 380,683.4 383.6,682.1 387.1,681 390.7,680.1 394.3,679.2 397.9,678.5 401.5,678 405.1,677.6 408.7,677.3 412.3,677.2 412.3,688.7 408.7,688.5 405.1,688.6 401.5,688.7 397.9,689 394.3,689.5 390.7,690.1 387.1,690.8 383.6,691.7 380,692.6 376.4,693.8 372.8,695 369.2,696.4 365.6,697.9 362,699.5"/>
<polygon points="424,677.2 430.2,677.5 436.4,678.5 442.6,680.1 448.9,682.2 455.1,684.7 461.3,687.5 467.5,690.5 473.7,693.4 479.9,696.2 486.1,698.7 492.4,700.8 498.6,702.4 504.8,703.4 511,703.7 511,715.2 504.8,714.9 498.6,713.9 492.4,712.3 486.1,710.2 479.9,707.7 473.7,704.9 467.5,702 461.3,699 455.1,696.2 448.9,693.7 442.6,691.6 436.4,690 430.2,689 424,688.7"/>
<polygon points="521,703.5 524.3,703.3 527.6,703 530.9,702.5 534.1,702 537.4,701.4 540.7,700.7 544,700 547.3,699.2 550.6,698.4 553.9,697.5 557.1,696.5 560.4,695.6 563.7,694.6 567,693.5 567,702.7 563.7,703.9 560.4,705.1 557.1,706.2 553.9,707.3 550.6,708.4 547.3,709.4 544,710.3 540.7,711.2 537.4,712 534.1,712.8 530.9,713.5 527.6,714.1 524.3,714.6 521,715"/>
<polygon points="362,730 365.6,728.1 369.2,726.3 372.8,724.7 376.4,723.2 380,721.9 383.6,720.6 387.1,719.5 390.7,718.6 394.3,717.7 397.9,717 401.5,716.5 405.1,716.1 408.7,715.8 412.3,715.7 412.3,726.7 408.7,726.6 405.1,726.6 401.5,726.8 397.9,727.1 394.3,727.5 390.7,728.1 387.1,728.9 383.6,729.7 380,730.7 376.4,731.9 372.8,733.1 369.2,734.5 365.6,736 362,737.7"/>
<polygon points="424,715.7 430.2,716 436.4,717 442.6,718.6 448.9,720.7 455.1,723.2 461.3,726 467.5,729 473.7,731.9 479.9,734.7 486.1,737.2 492.4,739.3 498.6,740.9 504.8,741.9 511,742.2 511,753.2 504.8,752.9 498.6,751.9 492.4,750.3 486.1,748.2 479.9,745.7 473.7,742.9 467.5,740 461.3,737 455.1,734.2 448.9,731.7 442.6,729.6 436.4,728 430.2,727 424,726.7"/>
<polygon points="521,742 524.3,741.8 527.6,741.5 530.9,741 534.1,740.5 537.4,739.9 540.7,739.2 544,738.5 547.3,737.7 550.6,736.9 553.9,736 557.1,735 560.4,734.1 563.7,733.1 567,732 567,740.8 563.7,742 560.4,743.2 557.1,744.3 553.9,745.4 550.6,746.4 547.3,747.4 544,748.4 540.7,749.3 537.4,750.1 534.1,750.8 530.9,751.5 527.6,752.1 524.3,752.7 521,753"/>
<polygon points="362,768.5 365.6,766.6 369.2,764.8 372.8,763.2 376.4,761.7 380,760.4 383.6,759.1 387.1,758 390.7,757.1 394.3,756.2 397.9,755.5 401.5,755 405.1,754.6 408.7,754.3 412.3,754.2 412.3,764.7 408.7,764.6 405.1,764.6 401.5,764.8 397.9,765.1 394.3,765.6 390.7,766.2 387.1,766.9 383.6,767.8 380,768.8 376.4,770 372.8,771.2 369.2,772.6 365.6,774.2 362,775.8"/>
<polygon points="424,754.2 430.2,754.5 436.4,755.5 442.6,757.1 448.9,759.2 455.1,761.7 461.3,764.5 467.5,767.5 473.7,770.4 479.9,773.2 486.1,775.7 492.4,777.8 498.6,779.4 504.8,780.4 511,780.7 511,791.2 504.8,790.9 498.6,789.9 492.4,788.3 486.1,786.2 479.9,783.7 473.7,780.9 467.5,778 461.3,775 455.1,772.2 448.9,769.7 442.6,767.6 436.4,766 430.2,765 424,764.7"/>
<polygon points="521,780.5 524.3,780.3 527.6,780 530.9,779.5 534.1,779 537.4,778.4 540.7,777.7 544,777 547.3,776.2 550.6,775.4 553.9,774.5 557.1,773.5 560.4,772.6 563.7,771.6 567,770.5 567,778.9 563.7,780.1 560.4,781.3 557.1,782.4 553.9,783.5 550.6,784.5 547.3,785.5 544,786.4 540.7,787.3 537.4,788.1 534.1,788.9 530.9,789.6 527.6,790.2 524.3,790.7 521,791"/>
</g>
<rect x="362" y="426" width="50.3" height="384" fill="url(#gDk)"/>
<rect x="521.2" y="426" width="50.8" height="390" fill="url(#gDk)"/>
<g id="facebr" stroke="#0e0e0e" stroke-width="1.8" stroke-linecap="round">
<line x1="345" y1="432" x2="398.8" y2="429.3"/>
<line x1="592" y1="430.8" x2="538.7" y2="432"/>
<line x1="345" y1="436.3" x2="388.5" y2="435.1"/>
<line x1="592" y1="430.7" x2="534.7" y2="436.3"/>
<line x1="345" y1="440.6" x2="398.3" y2="437.5"/>
<line x1="592" y1="434.3" x2="529.3" y2="440.6"/>
<line x1="345" y1="444.6" x2="394.9" y2="442.7"/>
<line x1="592" y1="438.8" x2="529.4" y2="444.6"/>
<line x1="345" y1="448.5" x2="393.6" y2="448.1"/>
<line x1="592" y1="441.1" x2="566" y2="448.5"/>
<line x1="345" y1="451.8" x2="395.8" y2="449.9"/>
<line x1="592" y1="442" x2="545.2" y2="451.8"/>
<line x1="345" y1="456.2" x2="389.5" y2="454.7"/>
<line x1="592" y1="455.9" x2="573.9" y2="456.2"/>
<line x1="345" y1="459.7" x2="387.6" y2="459.2"/>
<line x1="592" y1="450.7" x2="550.9" y2="459.7"/>
<line x1="345" y1="463.2" x2="372.1" y2="464.4"/>
<line x1="592" y1="463.1" x2="573" y2="463.2"/>
<line x1="345" y1="467.1" x2="367.3" y2="465.9"/>
<line x1="592" y1="461.2" x2="563.9" y2="467.1"/>
<line x1="345" y1="471.4" x2="371.2" y2="472.4"/>
<line x1="592" y1="470.1" x2="552.6" y2="471.4"/>
<line x1="345" y1="476.5" x2="372.7" y2="473.7"/>
<line x1="592" y1="470.1" x2="569.7" y2="476.5"/>
<line x1="345" y1="481.5" x2="394.3" y2="480.7"/>
<line x1="592" y1="481.4" x2="562.1" y2="481.5"/>
<line x1="345" y1="486" x2="385.5" y2="484.8"/>
<line x1="592" y1="481.5" x2="544.9" y2="486"/>
<line x1="345" y1="491" x2="392.3" y2="489"/>
<line x1="592" y1="490.6" x2="533.3" y2="491"/>
<line x1="345" y1="495.3" x2="379.2" y2="493.2"/>
<line x1="592" y1="487.5" x2="571.4" y2="495.3"/>
<line x1="345" y1="498.5" x2="385" y2="502"/>
<line x1="592" y1="496.5" x2="567.6" y2="498.5"/>
<line x1="345" y1="502.9" x2="383.3" y2="504.1"/>
<line x1="592" y1="501.2" x2="537.4" y2="502.9"/>
<line x1="345" y1="506.8" x2="375" y2="503.1"/>
<line x1="592" y1="498.9" x2="534" y2="506.8"/>
<line x1="345" y1="511.4" x2="363.3" y2="514.1"/>
<line x1="592" y1="506.7" x2="540.5" y2="511.4"/>
<line x1="345" y1="516.1" x2="381.1" y2="513.9"/>
<line x1="592" y1="513.7" x2="569.3" y2="516.1"/>
<line x1="345" y1="519.3" x2="376.4" y2="521.3"/>
<line x1="592" y1="510.9" x2="542.7" y2="519.3"/>
<line x1="345" y1="524" x2="373.6" y2="524.4"/>
<line x1="592" y1="516.1" x2="554.4" y2="524"/>
<line x1="345" y1="528.2" x2="373.6" y2="529.4"/>
<line x1="592" y1="526" x2="530.6" y2="528.2"/>
<line x1="345" y1="533.2" x2="363.6" y2="531.3"/>
<line x1="592" y1="525.7" x2="563.4" y2="533.2"/>
<line x1="345" y1="538.3" x2="392.8" y2="536.9"/>
<line x1="592" y1="535" x2="534.4" y2="538.3"/>
<line x1="345" y1="541.9" x2="399.3" y2="543"/>
<line x1="592" y1="535.3" x2="542.8" y2="541.9"/>
<line x1="345" y1="547.1" x2="381.8" y2="549.8"/>
<line x1="592" y1="538.5" x2="542.6" y2="547.1"/>
<line x1="345" y1="551.2" x2="392" y2="551.7"/>
<line x1="592" y1="549.1" x2="560.2" y2="551.2"/>
<line x1="345" y1="555.6" x2="366.1" y2="558.9"/>
<line x1="592" y1="555.4" x2="567.5" y2="555.6"/>
<line x1="345" y1="559" x2="400.2" y2="557.8"/>
<line x1="592" y1="558.7" x2="567.6" y2="559"/>
<line x1="345" y1="562.3" x2="390.7" y2="563.4"/>
<line x1="592" y1="554.9" x2="542.6" y2="562.3"/>
<line x1="345" y1="565.6" x2="386.6" y2="564.6"/>
<line x1="592" y1="557.5" x2="537.2" y2="565.6"/>
<line x1="345" y1="570.6" x2="365.6" y2="573.6"/>
<line x1="592" y1="561.2" x2="532.9" y2="570.6"/>
<line x1="345" y1="574" x2="371.2" y2="570.9"/>
<line x1="592" y1="565.6" x2="572.5" y2="574"/>
<line x1="345" y1="578.9" x2="388.4" y2="581.5"/>
<line x1="592" y1="576" x2="545.6" y2="578.9"/>
<line x1="345" y1="582.3" x2="366.9" y2="584.3"/>
<line x1="592" y1="579.1" x2="564.8" y2="582.3"/>
<line x1="345" y1="586.3" x2="363.8" y2="584.4"/>
<line x1="592" y1="579.2" x2="561.3" y2="586.3"/>
<line x1="345" y1="590.3" x2="375.8" y2="594"/>
<line x1="592" y1="581.7" x2="551.3" y2="590.3"/>
<line x1="345" y1="594.7" x2="364.2" y2="594"/>
<line x1="592" y1="587" x2="554.4" y2="594.7"/>
<line x1="345" y1="598.6" x2="391.2" y2="598.9"/>
<line x1="592" y1="590" x2="564.3" y2="598.6"/>
<line x1="345" y1="602" x2="395.8" y2="599.3"/>
<line x1="592" y1="599.9" x2="573.9" y2="602"/>
<line x1="345" y1="606.7" x2="402.1" y2="602.7"/>
<line x1="592" y1="601.8" x2="551.9" y2="606.7"/>
<line x1="345" y1="611.5" x2="370.4" y2="611.4"/>
<line x1="592" y1="603.2" x2="558.4" y2="611.5"/>
<line x1="345" y1="615.2" x2="400.8" y2="613.5"/>
<line x1="592" y1="608.2" x2="564.3" y2="615.2"/>
<line x1="345" y1="619.4" x2="367.4" y2="620.5"/>
<line x1="592" y1="611.5" x2="570.4" y2="619.4"/>
<line x1="345" y1="624" x2="394.5" y2="625"/>
<line x1="592" y1="620" x2="558" y2="624"/>
<line x1="345" y1="628" x2="398.6" y2="624.7"/>
<line x1="592" y1="627.7" x2="534" y2="628"/>
<line x1="345" y1="631.6" x2="373.5" y2="634.8"/>
<line x1="592" y1="627.8" x2="551.4" y2="631.6"/>
<line x1="345" y1="636.6" x2="372.3" y2="636.3"/>
<line x1="592" y1="629" x2="550.1" y2="636.6"/>
<line x1="345" y1="641.3" x2="388.9" y2="640.1"/>
<line x1="592" y1="639.7" x2="559.3" y2="641.3"/>
<line x1="345" y1="646.2" x2="389.5" y2="648.1"/>
<line x1="592" y1="641.8" x2="566.4" y2="646.2"/>
<line x1="345" y1="650.9" x2="386.2" y2="647.9"/>
<line x1="592" y1="642.1" x2="553.2" y2="650.9"/>
<line x1="345" y1="654.6" x2="370.7" y2="653"/>
<line x1="592" y1="646.1" x2="542.4" y2="654.6"/>
<line x1="345" y1="658.1" x2="369.2" y2="656.1"/>
<line x1="592" y1="652.9" x2="559.3" y2="658.1"/>
<line x1="345" y1="661.6" x2="376.1" y2="659.1"/>
<line x1="592" y1="654.3" x2="530.1" y2="661.6"/>
<line x1="345" y1="665" x2="401.5" y2="661.8"/>
<line x1="592" y1="655.2" x2="556.7" y2="665"/>
<line x1="345" y1="669.8" x2="392.3" y2="669.3"/>
<line x1="592" y1="663.4" x2="565.2" y2="669.8"/>
<line x1="345" y1="673.2" x2="371.3" y2="672.3"/>
<line x1="592" y1="669.2" x2="572.5" y2="673.2"/>
<line x1="345" y1="678" x2="390.7" y2="678"/>
<line x1="592" y1="673.4" x2="545.5" y2="678"/>
<line x1="345" y1="681.5" x2="387.1" y2="680.7"/>
<line x1="592" y1="672.4" x2="540.7" y2="681.5"/>
<line x1="345" y1="685.5" x2="386" y2="687.5"/>
<line x1="592" y1="683.3" x2="555" y2="685.5"/>
<line x1="345" y1="690.2" x2="398.2" y2="692.4"/>
<line x1="592" y1="681.7" x2="542.5" y2="690.2"/>
<line x1="345" y1="694.7" x2="388.7" y2="694.4"/>
<line x1="592" y1="688.5" x2="559.9" y2="694.7"/>
<line x1="345" y1="698.1" x2="379.8" y2="700.4"/>
<line x1="592" y1="691.8" x2="541.9" y2="698.1"/>
<line x1="345" y1="701.8" x2="379.9" y2="701.5"/>
<line x1="592" y1="697.7" x2="546" y2="701.8"/>
<line x1="345" y1="706.4" x2="400.2" y2="703.9"/>
<line x1="592" y1="698.6" x2="544.5" y2="706.4"/>
<line x1="345" y1="710.4" x2="382.6" y2="714.2"/>
<line x1="592" y1="704.9" x2="572.3" y2="710.4"/>
<line x1="345" y1="713.9" x2="394.3" y2="717.4"/>
<line x1="592" y1="712.9" x2="550.6" y2="713.9"/>
<line x1="345" y1="718.2" x2="384.6" y2="720"/>
<line x1="592" y1="711.8" x2="551" y2="718.2"/>
<line x1="345" y1="723.1" x2="383.9" y2="722.4"/>
<line x1="592" y1="721" x2="531.3" y2="723.1"/>
<line x1="345" y1="727.7" x2="378.7" y2="729.8"/>
<line x1="592" y1="717.8" x2="568.5" y2="727.7"/>
<line x1="345" y1="731.6" x2="365.3" y2="729.8"/>
<line x1="592" y1="731.4" x2="556" y2="731.6"/>
<line x1="345" y1="735.6" x2="379.8" y2="737.2"/>
<line x1="592" y1="733" x2="558.2" y2="735.6"/>
<line x1="345" y1="739.3" x2="392.7" y2="742.8"/>
<line x1="592" y1="737.1" x2="550.3" y2="739.3"/>
<line x1="345" y1="744.1" x2="378.7" y2="741.8"/>
<line x1="592" y1="736.3" x2="568.2" y2="744.1"/>
<line x1="345" y1="748.9" x2="388.4" y2="748.6"/>
<line x1="592" y1="746.6" x2="548.7" y2="748.9"/>
<line x1="345" y1="754" x2="377.1" y2="755.1"/>
<line x1="592" y1="745.9" x2="537.2" y2="754"/>
<line x1="345" y1="758.2" x2="374.8" y2="758.5"/>
<line x1="592" y1="749.8" x2="568.4" y2="758.2"/>
<line x1="345" y1="762.1" x2="397" y2="760.2"/>
<line x1="592" y1="759.5" x2="557.1" y2="762.1"/>
<line x1="345" y1="766.1" x2="370.4" y2="762.1"/>
<line x1="592" y1="763.3" x2="541.5" y2="766.1"/>
<line x1="345" y1="769.8" x2="375.1" y2="769.6"/>
<line x1="592" y1="763.4" x2="554.7" y2="769.8"/>
<line x1="345" y1="774.3" x2="377.5" y2="777.8"/>
<line x1="592" y1="773.7" x2="535.5" y2="774.3"/>
<line x1="345" y1="779.2" x2="399.2" y2="781.4"/>
<line x1="592" y1="770.9" x2="567.7" y2="779.2"/>
<line x1="345" y1="783.6" x2="363.6" y2="779.7"/>
<line x1="592" y1="777.1" x2="531.2" y2="783.6"/>
<line x1="345" y1="787.3" x2="367.1" y2="784.5"/>
<line x1="592" y1="779.6" x2="563.5" y2="787.3"/>
<line x1="345" y1="791.2" x2="369.1" y2="794.5"/>
<line x1="592" y1="789.6" x2="538.4" y2="791.2"/>
<line x1="345" y1="796.2" x2="387.3" y2="798.5"/>
<line x1="592" y1="787.3" x2="543.9" y2="796.2"/>
<line x1="345" y1="801" x2="396.6" y2="798.6"/>
<line x1="592" y1="795.7" x2="542.8" y2="801"/>
<line x1="345" y1="805.7" x2="380.5" y2="808.7"/>
<line x1="592" y1="803" x2="549" y2="805.7"/>
</g>
<g id="whites" fill="#fff">
<polygon points="558,478.5 565,476.5 565,478.5 558,479"/>
<polygon points="554,518 565.5,514.5 565.5,520.3 554,521.2"/>
<polygon points="429,534.5 435,535.3 441,536.7 447,538.6 453,540.9 459,543.5 465,546.4 471,549.2 477,552 483,554.6 489,556.8 495,558.6 501,559.9 507,560.7 507,562.3 501,561.5 495,560.2 489,558.4 483,556.2 477,553.6 471,550.8 465,548 459,545.1 453,542.5 447,540.2 441,538.3 435,536.9 429,536.1"/>
<polygon points="521.2,559.4 535,558 550,553 565.5,547.7 565.5,555.6 550,559.5 535,562.6 521.2,562.9"/>
<polygon points="369.5,579.5 372.6,578.1 375.6,576.8 378.7,575.6 381.8,574.5 384.9,573.5 387.9,572.6 391,571.8 394.1,571.1 397.1,570.5 400.2,570 403.3,569.5 406.4,569.2 409.4,569.1 412.5,569 412.5,573.2 409.4,573 406.4,573 403.3,573.1 400.2,573.2 397.1,573.5 394.1,573.9 391,574.4 387.9,575 384.9,575.7 381.8,576.4 378.7,577.3 375.6,578.3 372.6,579.3 369.5,580.5"/>
<polygon points="428.8,570 434.4,570.7 440,572 445.7,573.7 451.3,575.7 456.9,578.1 462.5,580.7 468.1,583.4 473.8,586 479.4,588.6 485,590.9 490.6,592.9 496.3,594.5 501.9,595.6 507.5,596.2 507.5,602.4 501.9,601.7 496.3,600.5 490.6,598.8 485,596.7 479.4,594.2 473.8,591.6 468.1,588.8 462.5,586 456.9,583.3 451.3,580.9 445.7,578.7 440,576.9 434.4,575.5 428.8,574.7"/>
<polygon points="521.2,595 524.4,594.8 527.5,594.5 530.7,594 533.9,593.5 537,592.9 540.2,592.3 543.4,591.6 546.5,590.9 549.7,590.1 552.8,589.2 556,588.4 559.2,587.5 562.3,586.5 565.5,585.5 565.5,594 562.3,594.9 559.2,595.7 556,596.4 552.8,597.2 549.7,597.9 546.5,598.5 543.4,599.1 540.2,599.7 537,600.2 533.9,600.6 530.7,601 527.5,601.3 524.4,601.4 521.2,601.5"/>
<polygon points="369.5,615 372.6,613.6 375.6,612.3 378.7,611.1 381.8,610 384.9,609 387.9,608.1 391,607.3 394.1,606.6 397.1,606 400.2,605.5 403.3,605 406.4,604.7 409.4,604.6 412.5,604.5 412.5,612.3 409.4,612.2 406.4,612.2 403.3,612.4 400.2,612.6 397.1,612.9 394.1,613.4 391,613.9 387.9,614.6 384.9,615.3 381.8,616.2 378.7,617.1 375.6,618.2 372.6,619.3 369.5,620.5"/>
<polygon points="428.8,604.7 434.4,605.4 440,606.7 445.7,608.4 451.3,610.4 456.9,612.8 462.5,615.4 468.1,618.1 473.8,620.7 479.4,623.3 485,625.6 490.6,627.6 496.3,629.2 501.9,630.3 507.5,630.9 507.5,640.1 501.9,639.4 496.3,638.2 490.6,636.5 485,634.4 479.4,632 473.8,629.4 468.1,626.7 462.5,623.9 456.9,621.2 451.3,618.8 445.7,616.6 440,614.8 434.4,613.5 428.8,612.7"/>
<polygon points="521.2,630.6 524.4,630.4 527.5,630.1 530.7,629.6 533.9,629.1 537,628.5 540.2,627.9 543.4,627.2 546.5,626.5 549.7,625.7 552.8,624.8 556,624 559.2,623.1 562.3,622.1 565.5,621.1 565.5,629.7 562.3,630.8 559.2,631.8 556,632.8 552.8,633.7 549.7,634.6 546.5,635.5 543.4,636.3 540.2,637.1 537,637.8 533.9,638.4 530.7,639 527.5,639.5 524.4,639.9 521.2,640.2"/>
<polygon points="369.5,650 372.6,648.6 375.6,647.3 378.7,646.1 381.8,645 384.9,644 387.9,643.1 391,642.3 394.1,641.6 397.1,641 400.2,640.5 403.3,640 406.4,639.7 409.4,639.6 412.5,639.5 412.5,650.1 409.4,650 406.4,650 403.3,650.2 400.2,650.5 397.1,650.8 394.1,651.3 391,651.8 387.9,652.5 384.9,653.3 381.8,654.1 378.7,655.1 375.6,656.1 372.6,657.3 369.5,658.5"/>
<polygon points="428.8,640.5 434.4,641.2 440,642.5 445.7,644.2 451.3,646.2 456.9,648.6 462.5,651.2 468.1,653.9 473.8,656.5 479.4,659.1 485,661.4 490.6,663.4 496.3,665 501.9,666.1 507.5,666.7 507.5,676.9 501.9,676.3 496.3,675.2 490.6,673.6 485,671.6 479.4,669.3 473.8,666.7 468.1,664.1 462.5,661.4 456.9,658.8 451.3,656.4 445.7,654.4 440,652.7 434.4,651.4 428.8,650.7"/>
<polygon points="521.2,666.5 524.4,666.3 527.5,666 530.7,665.5 533.9,665 537,664.4 540.2,663.8 543.4,663.1 546.5,662.4 549.7,661.6 552.8,660.7 556,659.9 559.2,659 562.3,658 565.5,657 565.5,665 562.3,666.1 559.2,667.2 556,668.3 552.8,669.3 549.7,670.2 546.5,671.1 543.4,672 540.2,672.8 537,673.6 533.9,674.3 530.7,674.9 527.5,675.5 524.4,676 521.2,676.3"/>
<polygon points="369.5,688 372.6,686.6 375.6,685.3 378.7,684.1 381.8,683 384.9,682 387.9,681.1 391,680.3 394.1,679.6 397.1,679 400.2,678.5 403.3,678 406.4,677.7 409.4,677.6 412.5,677.5 412.5,685.5 409.4,685.5 406.4,685.7 403.3,685.9 400.2,686.3 397.1,686.8 394.1,687.4 391,688 387.9,688.8 384.9,689.7 381.8,690.7 378.7,691.7 375.6,692.9 372.6,694.2 369.5,695.5"/>
<polygon points="428.8,678.7 440.5,681.6 441.5,682.6 428.8,682.6"/>
<polygon points="477.5,698.7 485,702 495,705 507.5,706.3 507.5,711.3 495,710 485,707 477.5,702.5"/>
<polygon points="521.2,707 530,706.7 540,705 550,702 560,698.7 565,697 565,700.5 560,702.5 550,706.3 540,709.5 530,711.3 521.2,711.3"/>
<polygon points="369.5,726.8 372.6,725.4 375.6,724.1 378.7,722.9 381.8,721.8 384.9,720.8 387.9,719.9 391,719.1 394.1,718.4 397.1,717.8 400.2,717.3 403.3,716.8 406.4,716.5 409.4,716.4 412.5,716.3 412.5,721.3 409.4,721.5 406.4,721.9 403.3,722.4 400.2,723 397.1,723.7 394.1,724.4 391,725.3 387.9,726.3 384.9,727.4 381.8,728.6 378.7,729.9 375.6,731.3 372.6,732.7 369.5,734.3"/>
<polygon points="428.8,717.6 437.5,718.8 447.5,721.8 457.5,726.3 457.5,727.6 447.5,723.4 437.5,720.3 428.8,719"/>
<polygon points="477.5,736.5 485,739.5 495,742.7 507.5,744.7 507.5,747 495,745 485,741.8 477.5,738.5"/>
<polygon points="521.2,744.8 530,744.5 540,742.8 550,739.8 560,736.5 565,735.3 565,737.3 560,738.6 550,742 540,745 530,746.7 521.2,746.9"/>
<polygon points="369.5,760 380,757.5 390,755.7 400,755 411,754.5 411,754.6 400,756.7 390,758.7 380,762.5 369.5,767"/>
</g>
<rect x="412.3" y="414" width="11.7" height="430" fill="#282828"/>
<rect x="511" y="414" width="10.2" height="430" fill="#262626"/>
<g id="nubs" stroke-linecap="round">
<line x1="365.5" y1="443.9" x2="355.5" y2="434.9" stroke="#0e0e0e" stroke-width="1.7"/>
<line x1="365.5" y1="443.9" x2="357.5" y2="433.5" stroke="#0e0e0e" stroke-width="1.7"/>
<line x1="365.5" y1="443.9" x2="355.4" y2="435" stroke="#0e0e0e" stroke-width="1.7"/>
<line x1="365.5" y1="443.9" x2="351.6" y2="445" stroke="#0e0e0e" stroke-width="1.7"/>
<line x1="365.5" y1="443.9" x2="360.5" y2="450.2" stroke="#0e0e0e" stroke-width="1.7"/>
<line x1="365.5" y1="443.9" x2="356.9" y2="453.8" stroke="#0e0e0e" stroke-width="1.7"/>
<line x1="365.5" y1="443.9" x2="350.6" y2="447.4" stroke="#0e0e0e" stroke-width="1.7"/>
<line x1="365.5" y1="443.9" x2="357.6" y2="453.1" stroke="#0e0e0e" stroke-width="1.7"/>
<line x1="365.5" y1="443.9" x2="347" y2="442.1" stroke="#0e0e0e" stroke-width="1.7"/>
<circle cx="363.5" cy="439.9" r="2.7" fill="url(#gNub)"/>
<line x1="392.5" y1="433.3" x2="382.9" y2="421.8" stroke="#0e0e0e" stroke-width="1.7"/>
<line x1="392.5" y1="433.3" x2="384.8" y2="436.5" stroke="#0e0e0e" stroke-width="1.7"/>
<line x1="392.5" y1="433.3" x2="377.9" y2="438.4" stroke="#0e0e0e" stroke-width="1.7"/>
<line x1="392.5" y1="433.3" x2="386.9" y2="443.5" stroke="#0e0e0e" stroke-width="1.7"/>
<line x1="392.5" y1="433.3" x2="387.3" y2="445.9" stroke="#0e0e0e" stroke-width="1.7"/>
<line x1="392.5" y1="433.3" x2="374.7" y2="434.3" stroke="#0e0e0e" stroke-width="1.7"/>
<line x1="392.5" y1="433.3" x2="383.5" y2="420.2" stroke="#0e0e0e" stroke-width="1.7"/>
<line x1="392.5" y1="433.3" x2="381.6" y2="437.6" stroke="#0e0e0e" stroke-width="1.7"/>
<line x1="392.5" y1="433.3" x2="385.1" y2="442.8" stroke="#0e0e0e" stroke-width="1.7"/>
<circle cx="390.5" cy="429.3" r="2.7" fill="url(#gNub)"/>
<ellipse cx="422.2" cy="430.9" rx="4.6" ry="5.4" fill="#151515"/>
<line x1="421.7" y1="430.4" x2="413.7" y2="429.1" stroke="#0e0e0e" stroke-width="1.7"/>
<line x1="421.7" y1="430.4" x2="422.5" y2="436.6" stroke="#0e0e0e" stroke-width="1.7"/>
<line x1="421.7" y1="430.4" x2="414.8" y2="427.4" stroke="#0e0e0e" stroke-width="1.7"/>
<line x1="421.7" y1="430.4" x2="412.3" y2="433.7" stroke="#0e0e0e" stroke-width="1.7"/>
<line x1="421.7" y1="430.4" x2="419" y2="420.8" stroke="#0e0e0e" stroke-width="1.7"/>
<line x1="421.7" y1="430.4" x2="415.1" y2="425.8" stroke="#0e0e0e" stroke-width="1.7"/>
<circle cx="419.7" cy="426.4" r="2.7" fill="url(#gNub)"/>
<ellipse cx="452.8" cy="435.9" rx="4.6" ry="5.4" fill="#151515"/>
<line x1="452.3" y1="435.4" x2="451.2" y2="427.5" stroke="#0e0e0e" stroke-width="1.7"/>
<line x1="452.3" y1="435.4" x2="461.1" y2="436.8" stroke="#0e0e0e" stroke-width="1.7"/>
<line x1="452.3" y1="435.4" x2="454.1" y2="442.2" stroke="#0e0e0e" stroke-width="1.7"/>
<line x1="452.3" y1="435.4" x2="449.5" y2="429.2" stroke="#0e0e0e" stroke-width="1.7"/>
<line x1="452.3" y1="435.4" x2="444.8" y2="440" stroke="#0e0e0e" stroke-width="1.7"/>
<line x1="452.3" y1="435.4" x2="453.4" y2="440.6" stroke="#0e0e0e" stroke-width="1.7"/>
<circle cx="450.3" cy="431.4" r="2.7" fill="url(#gNub)"/>
<ellipse cx="483.5" cy="446.9" rx="4.6" ry="5.4" fill="#151515"/>
<line x1="483" y1="446.4" x2="481.2" y2="456.5" stroke="#0e0e0e" stroke-width="1.7"/>
<line x1="483" y1="446.4" x2="477.9" y2="447.8" stroke="#0e0e0e" stroke-width="1.7"/>
<line x1="483" y1="446.4" x2="481.4" y2="441.6" stroke="#0e0e0e" stroke-width="1.7"/>
<line x1="483" y1="446.4" x2="486.9" y2="436.6" stroke="#0e0e0e" stroke-width="1.7"/>
<line x1="483" y1="446.4" x2="476.1" y2="452" stroke="#0e0e0e" stroke-width="1.7"/>
<line x1="483" y1="446.4" x2="485.5" y2="456.5" stroke="#0e0e0e" stroke-width="1.7"/>
<circle cx="481" cy="442.4" r="2.7" fill="url(#gNub)"/>
<ellipse cx="513.3" cy="455.2" rx="4.6" ry="5.4" fill="#151515"/>
<line x1="512.8" y1="454.7" x2="506.2" y2="460.3" stroke="#0e0e0e" stroke-width="1.7"/>
<line x1="512.8" y1="454.7" x2="506.4" y2="461.3" stroke="#0e0e0e" stroke-width="1.7"/>
<line x1="512.8" y1="454.7" x2="505.3" y2="459.9" stroke="#0e0e0e" stroke-width="1.7"/>
<line x1="512.8" y1="454.7" x2="514.9" y2="445.9" stroke="#0e0e0e" stroke-width="1.7"/>
<line x1="512.8" y1="454.7" x2="503.6" y2="452.2" stroke="#0e0e0e" stroke-width="1.7"/>
<line x1="512.8" y1="454.7" x2="517.7" y2="451.1" stroke="#0e0e0e" stroke-width="1.7"/>
<circle cx="510.8" cy="450.7" r="2.7" fill="url(#gNub)"/>
<line x1="365.5" y1="484.2" x2="356.1" y2="470.6" stroke="#0e0e0e" stroke-width="1.7"/>
<line x1="365.5" y1="484.2" x2="357.6" y2="497.2" stroke="#0e0e0e" stroke-width="1.7"/>
<line x1="365.5" y1="484.2" x2="348.8" y2="480.6" stroke="#0e0e0e" stroke-width="1.7"/>
<line x1="365.5" y1="484.2" x2="355" y2="493.7" stroke="#0e0e0e" stroke-width="1.7"/>
<line x1="365.5" y1="484.2" x2="355.4" y2="479.1" stroke="#0e0e0e" stroke-width="1.7"/>
<line x1="365.5" y1="484.2" x2="354" y2="483.1" stroke="#0e0e0e" stroke-width="1.7"/>
<line x1="365.5" y1="484.2" x2="350.5" y2="483.1" stroke="#0e0e0e" stroke-width="1.7"/>
<line x1="365.5" y1="484.2" x2="361.4" y2="491.7" stroke="#0e0e0e" stroke-width="1.7"/>
<line x1="365.5" y1="484.2" x2="357.3" y2="486.2" stroke="#0e0e0e" stroke-width="1.7"/>
<circle cx="363.5" cy="480.2" r="2.7" fill="url(#gNub)"/>
<line x1="392.5" y1="473.6" x2="380.4" y2="461.7" stroke="#0e0e0e" stroke-width="1.7"/>
<line x1="392.5" y1="473.6" x2="375" y2="478.2" stroke="#0e0e0e" stroke-width="1.7"/>
<line x1="392.5" y1="473.6" x2="384.3" y2="473.3" stroke="#0e0e0e" stroke-width="1.7"/>
<line x1="392.5" y1="473.6" x2="378.2" y2="471.2" stroke="#0e0e0e" stroke-width="1.7"/>
<line x1="392.5" y1="473.6" x2="383.7" y2="490.2" stroke="#0e0e0e" stroke-width="1.7"/>
<line x1="392.5" y1="473.6" x2="380" y2="474" stroke="#0e0e0e" stroke-width="1.7"/>
<line x1="392.5" y1="473.6" x2="382.2" y2="462.6" stroke="#0e0e0e" stroke-width="1.7"/>
<line x1="392.5" y1="473.6" x2="384.3" y2="468.4" stroke="#0e0e0e" stroke-width="1.7"/>
<line x1="392.5" y1="473.6" x2="388.2" y2="466.8" stroke="#0e0e0e" stroke-width="1.7"/>
<circle cx="390.5" cy="469.6" r="2.7" fill="url(#gNub)"/>
<ellipse cx="422.2" cy="471.2" rx="4.6" ry="5.4" fill="#151515"/>
<line x1="421.7" y1="470.7" x2="419.4" y2="475.9" stroke="#0e0e0e" stroke-width="1.7"/>
<line x1="421.7" y1="470.7" x2="427.1" y2="471.9" stroke="#0e0e0e" stroke-width="1.7"/>
<line x1="421.7" y1="470.7" x2="425.6" y2="474.9" stroke="#0e0e0e" stroke-width="1.7"/>
<line x1="421.7" y1="470.7" x2="431" y2="469.7" stroke="#0e0e0e" stroke-width="1.7"/>
<line x1="421.7" y1="470.7" x2="422.2" y2="461.3" stroke="#0e0e0e" stroke-width="1.7"/>
<line x1="421.7" y1="470.7" x2="423.7" y2="465.8" stroke="#0e0e0e" stroke-width="1.7"/>
<circle cx="419.7" cy="466.7" r="2.7" fill="url(#gNub)"/>
<ellipse cx="452.8" cy="476.2" rx="4.6" ry="5.4" fill="#151515"/>
<line x1="452.3" y1="475.7" x2="453.7" y2="484.9" stroke="#0e0e0e" stroke-width="1.7"/>
<line x1="452.3" y1="475.7" x2="458.1" y2="483.1" stroke="#0e0e0e" stroke-width="1.7"/>
<line x1="452.3" y1="475.7" x2="459.9" y2="471.3" stroke="#0e0e0e" stroke-width="1.7"/>
<line x1="452.3" y1="475.7" x2="450.3" y2="483.2" stroke="#0e0e0e" stroke-width="1.7"/>
<line x1="452.3" y1="475.7" x2="458.2" y2="478.4" stroke="#0e0e0e" stroke-width="1.7"/>
<line x1="452.3" y1="475.7" x2="461.4" y2="477.8" stroke="#0e0e0e" stroke-width="1.7"/>
<circle cx="450.3" cy="471.7" r="2.7" fill="url(#gNub)"/>
<ellipse cx="483.5" cy="487.2" rx="4.6" ry="5.4" fill="#151515"/>
<line x1="483" y1="486.7" x2="488.1" y2="486.3" stroke="#0e0e0e" stroke-width="1.7"/>
<line x1="483" y1="486.7" x2="477.2" y2="494.7" stroke="#0e0e0e" stroke-width="1.7"/>
<line x1="483" y1="486.7" x2="489" y2="483.4" stroke="#0e0e0e" stroke-width="1.7"/>
<line x1="483" y1="486.7" x2="482.2" y2="492.6" stroke="#0e0e0e" stroke-width="1.7"/>
<line x1="483" y1="486.7" x2="488.1" y2="492.7" stroke="#0e0e0e" stroke-width="1.7"/>
<line x1="483" y1="486.7" x2="489.7" y2="484" stroke="#0e0e0e" stroke-width="1.7"/>
<circle cx="481" cy="482.7" r="2.7" fill="url(#gNub)"/>
<ellipse cx="513.3" cy="495.5" rx="4.6" ry="5.4" fill="#151515"/>
<line x1="512.8" y1="495" x2="506" y2="498.5" stroke="#0e0e0e" stroke-width="1.7"/>
<line x1="512.8" y1="495" x2="510.2" y2="500.3" stroke="#0e0e0e" stroke-width="1.7"/>
<line x1="512.8" y1="495" x2="514.9" y2="501.9" stroke="#0e0e0e" stroke-width="1.7"/>
<line x1="512.8" y1="495" x2="507.4" y2="501.9" stroke="#0e0e0e" stroke-width="1.7"/>
<line x1="512.8" y1="495" x2="506.4" y2="491.4" stroke="#0e0e0e" stroke-width="1.7"/>
<line x1="512.8" y1="495" x2="515.2" y2="505.4" stroke="#0e0e0e" stroke-width="1.7"/>
<circle cx="510.8" cy="491" r="2.7" fill="url(#gNub)"/>
<line x1="365.5" y1="524.5" x2="354.9" y2="534" stroke="#0e0e0e" stroke-width="1.7"/>
<line x1="365.5" y1="524.5" x2="357.5" y2="521.2" stroke="#0e0e0e" stroke-width="1.7"/>
<line x1="365.5" y1="524.5" x2="359.3" y2="538.9" stroke="#0e0e0e" stroke-width="1.7"/>
<line x1="365.5" y1="524.5" x2="357.6" y2="533.1" stroke="#0e0e0e" stroke-width="1.7"/>
<line x1="365.5" y1="524.5" x2="347.7" y2="530.5" stroke="#0e0e0e" stroke-width="1.7"/>
<line x1="365.5" y1="524.5" x2="355.7" y2="535.3" stroke="#0e0e0e" stroke-width="1.7"/>
<line x1="365.5" y1="524.5" x2="353.5" y2="520.1" stroke="#0e0e0e" stroke-width="1.7"/>
<line x1="365.5" y1="524.5" x2="358.6" y2="534.5" stroke="#0e0e0e" stroke-width="1.7"/>
<line x1="365.5" y1="524.5" x2="352.7" y2="531.6" stroke="#0e0e0e" stroke-width="1.7"/>
<circle cx="363.5" cy="520.5" r="2.7" fill="url(#gNub)"/>
<line x1="392.5" y1="513.9" x2="383.2" y2="528" stroke="#0e0e0e" stroke-width="1.7"/>
<line x1="392.5" y1="513.9" x2="385.1" y2="510.8" stroke="#0e0e0e" stroke-width="1.7"/>
<line x1="392.5" y1="513.9" x2="381.1" y2="508.4" stroke="#0e0e0e" stroke-width="1.7"/>
<line x1="392.5" y1="513.9" x2="376.2" y2="518.7" stroke="#0e0e0e" stroke-width="1.7"/>
<line x1="392.5" y1="513.9" x2="387.7" y2="520.9" stroke="#0e0e0e" stroke-width="1.7"/>
<line x1="392.5" y1="513.9" x2="381.2" y2="526.6" stroke="#0e0e0e" stroke-width="1.7"/>
<line x1="392.5" y1="513.9" x2="383.8" y2="525.3" stroke="#0e0e0e" stroke-width="1.7"/>
<line x1="392.5" y1="513.9" x2="376.7" y2="506.7" stroke="#0e0e0e" stroke-width="1.7"/>
<line x1="392.5" y1="513.9" x2="381.5" y2="524.9" stroke="#0e0e0e" stroke-width="1.7"/>
<circle cx="390.5" cy="509.9" r="2.7" fill="url(#gNub)"/>
<ellipse cx="422.2" cy="511.5" rx="4.6" ry="5.4" fill="#151515"/>
<line x1="421.7" y1="511" x2="427.8" y2="514.7" stroke="#0e0e0e" stroke-width="1.7"/>
<line x1="421.7" y1="511" x2="428.9" y2="506.8" stroke="#0e0e0e" stroke-width="1.7"/>
<line x1="421.7" y1="511" x2="423.5" y2="516.9" stroke="#0e0e0e" stroke-width="1.7"/>
<line x1="421.7" y1="511" x2="421.7" y2="521.6" stroke="#0e0e0e" stroke-width="1.7"/>
<line x1="421.7" y1="511" x2="422.6" y2="502.4" stroke="#0e0e0e" stroke-width="1.7"/>
<line x1="421.7" y1="511" x2="418.3" y2="518" stroke="#0e0e0e" stroke-width="1.7"/>
<circle cx="419.7" cy="507" r="2.7" fill="url(#gNub)"/>
<ellipse cx="452.8" cy="516.5" rx="4.6" ry="5.4" fill="#151515"/>
<line x1="452.3" y1="516" x2="454.1" y2="509.8" stroke="#0e0e0e" stroke-width="1.7"/>
<line x1="452.3" y1="516" x2="452.4" y2="525.8" stroke="#0e0e0e" stroke-width="1.7"/>
<line x1="452.3" y1="516" x2="446.9" y2="514.7" stroke="#0e0e0e" stroke-width="1.7"/>
<line x1="452.3" y1="516" x2="455.7" y2="525.1" stroke="#0e0e0e" stroke-width="1.7"/>
<line x1="452.3" y1="516" x2="453.2" y2="507.6" stroke="#0e0e0e" stroke-width="1.7"/>
<line x1="452.3" y1="516" x2="460.5" y2="522.3" stroke="#0e0e0e" stroke-width="1.7"/>
<circle cx="450.3" cy="512" r="2.7" fill="url(#gNub)"/>
<ellipse cx="483.5" cy="527.5" rx="4.6" ry="5.4" fill="#151515"/>
<line x1="483" y1="527" x2="475.2" y2="528" stroke="#0e0e0e" stroke-width="1.7"/>
<line x1="483" y1="527" x2="477.8" y2="530.2" stroke="#0e0e0e" stroke-width="1.7"/>
<line x1="483" y1="527" x2="485.2" y2="521.3" stroke="#0e0e0e" stroke-width="1.7"/>
<line x1="483" y1="527" x2="480.8" y2="533.8" stroke="#0e0e0e" stroke-width="1.7"/>
<line x1="483" y1="527" x2="476.2" y2="529.9" stroke="#0e0e0e" stroke-width="1.7"/>
<line x1="483" y1="527" x2="477.1" y2="527.6" stroke="#0e0e0e" stroke-width="1.7"/>
<circle cx="481" cy="523" r="2.7" fill="url(#gNub)"/>
<ellipse cx="513.3" cy="535.8" rx="4.6" ry="5.4" fill="#151515"/>
<line x1="512.8" y1="535.3" x2="523.4" y2="532.3" stroke="#0e0e0e" stroke-width="1.7"/>
<line x1="512.8" y1="535.3" x2="508.8" y2="531.3" stroke="#0e0e0e" stroke-width="1.7"/>
<line x1="512.8" y1="535.3" x2="506.3" y2="542.5" stroke="#0e0e0e" stroke-width="1.7"/>
<line x1="512.8" y1="535.3" x2="517.6" y2="528.2" stroke="#0e0e0e" stroke-width="1.7"/>
<line x1="512.8" y1="535.3" x2="508.2" y2="528.6" stroke="#0e0e0e" stroke-width="1.7"/>
<line x1="512.8" y1="535.3" x2="518" y2="534.6" stroke="#0e0e0e" stroke-width="1.7"/>
<circle cx="510.8" cy="531.3" r="2.7" fill="url(#gNub)"/>
<line x1="365.5" y1="564.8" x2="359.1" y2="581.1" stroke="#0e0e0e" stroke-width="1.7"/>
<line x1="365.5" y1="564.8" x2="351.3" y2="565.6" stroke="#0e0e0e" stroke-width="1.7"/>
<line x1="365.5" y1="564.8" x2="350.6" y2="557.5" stroke="#0e0e0e" stroke-width="1.7"/>
<line x1="365.5" y1="564.8" x2="347.1" y2="563.3" stroke="#0e0e0e" stroke-width="1.7"/>
<line x1="365.5" y1="564.8" x2="352.4" y2="575.6" stroke="#0e0e0e" stroke-width="1.7"/>
<line x1="365.5" y1="564.8" x2="361" y2="574.6" stroke="#0e0e0e" stroke-width="1.7"/>
<line x1="365.5" y1="564.8" x2="359.7" y2="556.4" stroke="#0e0e0e" stroke-width="1.7"/>
<line x1="365.5" y1="564.8" x2="358.3" y2="559.5" stroke="#0e0e0e" stroke-width="1.7"/>
<line x1="365.5" y1="564.8" x2="357.1" y2="553.4" stroke="#0e0e0e" stroke-width="1.7"/>
<circle cx="363.5" cy="560.8" r="2.7" fill="url(#gNub)"/>
<line x1="392.5" y1="554.2" x2="384.7" y2="564.7" stroke="#0e0e0e" stroke-width="1.7"/>
<line x1="392.5" y1="554.2" x2="384.4" y2="570.3" stroke="#0e0e0e" stroke-width="1.7"/>
<line x1="392.5" y1="554.2" x2="383.5" y2="542.8" stroke="#0e0e0e" stroke-width="1.7"/>
<line x1="392.5" y1="554.2" x2="383.3" y2="552.9" stroke="#0e0e0e" stroke-width="1.7"/>
<line x1="392.5" y1="554.2" x2="387.9" y2="564" stroke="#0e0e0e" stroke-width="1.7"/>
<line x1="392.5" y1="554.2" x2="377.9" y2="557.7" stroke="#0e0e0e" stroke-width="1.7"/>
<line x1="392.5" y1="554.2" x2="385.8" y2="568.1" stroke="#0e0e0e" stroke-width="1.7"/>
<line x1="392.5" y1="554.2" x2="379.7" y2="552.2" stroke="#0e0e0e" stroke-width="1.7"/>
<line x1="392.5" y1="554.2" x2="378.1" y2="542.4" stroke="#0e0e0e" stroke-width="1.7"/>
<circle cx="390.5" cy="550.2" r="2.7" fill="url(#gNub)"/>
<ellipse cx="422.2" cy="551.8" rx="4.6" ry="5.4" fill="#151515"/>
<line x1="421.7" y1="551.3" x2="428" y2="551.6" stroke="#0e0e0e" stroke-width="1.7"/>
<line x1="421.7" y1="551.3" x2="428" y2="549.7" stroke="#0e0e0e" stroke-width="1.7"/>
<line x1="421.7" y1="551.3" x2="415.5" y2="543" stroke="#0e0e0e" stroke-width="1.7"/>
<line x1="421.7" y1="551.3" x2="430" y2="557" stroke="#0e0e0e" stroke-width="1.7"/>
<line x1="421.7" y1="551.3" x2="431" y2="548.5" stroke="#0e0e0e" stroke-width="1.7"/>
<line x1="421.7" y1="551.3" x2="419.5" y2="559.9" stroke="#0e0e0e" stroke-width="1.7"/>
<circle cx="419.7" cy="547.3" r="2.7" fill="url(#gNub)"/>
<ellipse cx="452.8" cy="556.8" rx="4.6" ry="5.4" fill="#151515"/>
<line x1="452.3" y1="556.3" x2="457.6" y2="556.8" stroke="#0e0e0e" stroke-width="1.7"/>
<line x1="452.3" y1="556.3" x2="458.2" y2="548.8" stroke="#0e0e0e" stroke-width="1.7"/>
<line x1="452.3" y1="556.3" x2="460.7" y2="559.7" stroke="#0e0e0e" stroke-width="1.7"/>
<line x1="452.3" y1="556.3" x2="449.7" y2="548.2" stroke="#0e0e0e" stroke-width="1.7"/>
<line x1="452.3" y1="556.3" x2="452.6" y2="562" stroke="#0e0e0e" stroke-width="1.7"/>
<line x1="452.3" y1="556.3" x2="449.4" y2="550.5" stroke="#0e0e0e" stroke-width="1.7"/>
<circle cx="450.3" cy="552.3" r="2.7" fill="url(#gNub)"/>
<ellipse cx="483.5" cy="567.8" rx="4.6" ry="5.4" fill="#151515"/>
<line x1="483" y1="567.3" x2="488.6" y2="561.7" stroke="#0e0e0e" stroke-width="1.7"/>
<line x1="483" y1="567.3" x2="486.1" y2="561.6" stroke="#0e0e0e" stroke-width="1.7"/>
<line x1="483" y1="567.3" x2="488.6" y2="560.2" stroke="#0e0e0e" stroke-width="1.7"/>
<line x1="483" y1="567.3" x2="492.3" y2="566.5" stroke="#0e0e0e" stroke-width="1.7"/>
<line x1="483" y1="567.3" x2="484.8" y2="562.3" stroke="#0e0e0e" stroke-width="1.7"/>
<line x1="483" y1="567.3" x2="488.7" y2="570" stroke="#0e0e0e" stroke-width="1.7"/>
<circle cx="481" cy="563.3" r="2.7" fill="url(#gNub)"/>
<ellipse cx="513.3" cy="576.1" rx="4.6" ry="5.4" fill="#151515"/>
<line x1="512.8" y1="575.6" x2="522.1" y2="579.7" stroke="#0e0e0e" stroke-width="1.7"/>
<line x1="512.8" y1="575.6" x2="517.3" y2="579.4" stroke="#0e0e0e" stroke-width="1.7"/>
<line x1="512.8" y1="575.6" x2="507.5" y2="573.8" stroke="#0e0e0e" stroke-width="1.7"/>
<line x1="512.8" y1="575.6" x2="521.9" y2="579.9" stroke="#0e0e0e" stroke-width="1.7"/>
<line x1="512.8" y1="575.6" x2="507.5" y2="581.2" stroke="#0e0e0e" stroke-width="1.7"/>
<line x1="512.8" y1="575.6" x2="507.5" y2="567.2" stroke="#0e0e0e" stroke-width="1.7"/>
<circle cx="510.8" cy="571.6" r="2.7" fill="url(#gNub)"/>
<line x1="365.5" y1="605.1" x2="350.6" y2="605.6" stroke="#0e0e0e" stroke-width="1.7"/>
<line x1="365.5" y1="605.1" x2="357.7" y2="598.2" stroke="#0e0e0e" stroke-width="1.7"/>
<line x1="365.5" y1="605.1" x2="355.9" y2="592.5" stroke="#0e0e0e" stroke-width="1.7"/>
<line x1="365.5" y1="605.1" x2="356.1" y2="607.1" stroke="#0e0e0e" stroke-width="1.7"/>
<line x1="365.5" y1="605.1" x2="359" y2="613.8" stroke="#0e0e0e" stroke-width="1.7"/>
<line x1="365.5" y1="605.1" x2="355.8" y2="604" stroke="#0e0e0e" stroke-width="1.7"/>
<line x1="365.5" y1="605.1" x2="349.8" y2="597.9" stroke="#0e0e0e" stroke-width="1.7"/>
<line x1="365.5" y1="605.1" x2="356.1" y2="602.3" stroke="#0e0e0e" stroke-width="1.7"/>
<line x1="365.5" y1="605.1" x2="354" y2="605.8" stroke="#0e0e0e" stroke-width="1.7"/>
<circle cx="363.5" cy="601.1" r="2.7" fill="url(#gNub)"/>
<line x1="392.5" y1="594.5" x2="387.5" y2="602.3" stroke="#0e0e0e" stroke-width="1.7"/>
<line x1="392.5" y1="594.5" x2="389.2" y2="602.5" stroke="#0e0e0e" stroke-width="1.7"/>
<line x1="392.5" y1="594.5" x2="384" y2="607.3" stroke="#0e0e0e" stroke-width="1.7"/>
<line x1="392.5" y1="594.5" x2="381.3" y2="587.4" stroke="#0e0e0e" stroke-width="1.7"/>
<line x1="392.5" y1="594.5" x2="382.5" y2="590.3" stroke="#0e0e0e" stroke-width="1.7"/>
<line x1="392.5" y1="594.5" x2="382.5" y2="587.8" stroke="#0e0e0e" stroke-width="1.7"/>
<line x1="392.5" y1="594.5" x2="385.6" y2="612.2" stroke="#0e0e0e" stroke-width="1.7"/>
<line x1="392.5" y1="594.5" x2="388" y2="602.4" stroke="#0e0e0e" stroke-width="1.7"/>
<line x1="392.5" y1="594.5" x2="376" y2="587.7" stroke="#0e0e0e" stroke-width="1.7"/>
<circle cx="390.5" cy="590.5" r="2.7" fill="url(#gNub)"/>
<ellipse cx="422.2" cy="592.1" rx="4.6" ry="5.4" fill="#151515"/>
<line x1="421.7" y1="591.6" x2="430.5" y2="588.3" stroke="#0e0e0e" stroke-width="1.7"/>
<line x1="421.7" y1="591.6" x2="418.8" y2="581.1" stroke="#0e0e0e" stroke-width="1.7"/>
<line x1="421.7" y1="591.6" x2="431.5" y2="590.6" stroke="#0e0e0e" stroke-width="1.7"/>
<line x1="421.7" y1="591.6" x2="418.5" y2="586.7" stroke="#0e0e0e" stroke-width="1.7"/>
<line x1="421.7" y1="591.6" x2="431.7" y2="591.5" stroke="#0e0e0e" stroke-width="1.7"/>
<line x1="421.7" y1="591.6" x2="415.7" y2="592.6" stroke="#0e0e0e" stroke-width="1.7"/>
<circle cx="419.7" cy="587.6" r="2.7" fill="url(#gNub)"/>
<ellipse cx="452.8" cy="597.1" rx="4.6" ry="5.4" fill="#151515"/>
<line x1="452.3" y1="596.6" x2="442.7" y2="592.5" stroke="#0e0e0e" stroke-width="1.7"/>
<line x1="452.3" y1="596.6" x2="454" y2="588.4" stroke="#0e0e0e" stroke-width="1.7"/>
<line x1="452.3" y1="596.6" x2="456.2" y2="592" stroke="#0e0e0e" stroke-width="1.7"/>
<line x1="452.3" y1="596.6" x2="453.5" y2="605.8" stroke="#0e0e0e" stroke-width="1.7"/>
<line x1="452.3" y1="596.6" x2="454.1" y2="591.5" stroke="#0e0e0e" stroke-width="1.7"/>
<line x1="452.3" y1="596.6" x2="459.7" y2="592.1" stroke="#0e0e0e" stroke-width="1.7"/>
<circle cx="450.3" cy="592.6" r="2.7" fill="url(#gNub)"/>
<ellipse cx="483.5" cy="608.1" rx="4.6" ry="5.4" fill="#151515"/>
<line x1="483" y1="607.6" x2="476.4" y2="607.4" stroke="#0e0e0e" stroke-width="1.7"/>
<line x1="483" y1="607.6" x2="485.4" y2="599.2" stroke="#0e0e0e" stroke-width="1.7"/>
<line x1="483" y1="607.6" x2="480.4" y2="617.1" stroke="#0e0e0e" stroke-width="1.7"/>
<line x1="483" y1="607.6" x2="477.6" y2="610.6" stroke="#0e0e0e" stroke-width="1.7"/>
<line x1="483" y1="607.6" x2="491.6" y2="603.8" stroke="#0e0e0e" stroke-width="1.7"/>
<line x1="483" y1="607.6" x2="475.2" y2="602.5" stroke="#0e0e0e" stroke-width="1.7"/>
<circle cx="481" cy="603.6" r="2.7" fill="url(#gNub)"/>
<ellipse cx="513.3" cy="616.4" rx="4.6" ry="5.4" fill="#151515"/>
<line x1="512.8" y1="615.9" x2="522.1" y2="612.5" stroke="#0e0e0e" stroke-width="1.7"/>
<line x1="512.8" y1="615.9" x2="507.7" y2="607.3" stroke="#0e0e0e" stroke-width="1.7"/>
<line x1="512.8" y1="615.9" x2="518" y2="621.9" stroke="#0e0e0e" stroke-width="1.7"/>
<line x1="512.8" y1="615.9" x2="523.2" y2="614.9" stroke="#0e0e0e" stroke-width="1.7"/>
<line x1="512.8" y1="615.9" x2="502.7" y2="614.4" stroke="#0e0e0e" stroke-width="1.7"/>
<line x1="512.8" y1="615.9" x2="512.2" y2="609.8" stroke="#0e0e0e" stroke-width="1.7"/>
<circle cx="510.8" cy="611.9" r="2.7" fill="url(#gNub)"/>
<line x1="365.5" y1="645.4" x2="357.5" y2="654.3" stroke="#0e0e0e" stroke-width="1.7"/>
<line x1="365.5" y1="645.4" x2="356.1" y2="637.8" stroke="#0e0e0e" stroke-width="1.7"/>
<line x1="365.5" y1="645.4" x2="357.8" y2="647.8" stroke="#0e0e0e" stroke-width="1.7"/>
<line x1="365.5" y1="645.4" x2="352.7" y2="647.1" stroke="#0e0e0e" stroke-width="1.7"/>
<line x1="365.5" y1="645.4" x2="356.2" y2="646.5" stroke="#0e0e0e" stroke-width="1.7"/>
<line x1="365.5" y1="645.4" x2="351.2" y2="654.6" stroke="#0e0e0e" stroke-width="1.7"/>
<line x1="365.5" y1="645.4" x2="358.5" y2="654.5" stroke="#0e0e0e" stroke-width="1.7"/>
<line x1="365.5" y1="645.4" x2="355.2" y2="651.9" stroke="#0e0e0e" stroke-width="1.7"/>
<line x1="365.5" y1="645.4" x2="358.6" y2="650.7" stroke="#0e0e0e" stroke-width="1.7"/>
<circle cx="363.5" cy="641.4" r="2.7" fill="url(#gNub)"/>
<line x1="392.5" y1="634.8" x2="381.5" y2="649.7" stroke="#0e0e0e" stroke-width="1.7"/>
<line x1="392.5" y1="634.8" x2="378.9" y2="635.8" stroke="#0e0e0e" stroke-width="1.7"/>
<line x1="392.5" y1="634.8" x2="378.8" y2="637" stroke="#0e0e0e" stroke-width="1.7"/>
<line x1="392.5" y1="634.8" x2="382.4" y2="619.1" stroke="#0e0e0e" stroke-width="1.7"/>
<line x1="392.5" y1="634.8" x2="383.9" y2="629.7" stroke="#0e0e0e" stroke-width="1.7"/>
<line x1="392.5" y1="634.8" x2="385.1" y2="627" stroke="#0e0e0e" stroke-width="1.7"/>
<line x1="392.5" y1="634.8" x2="386.7" y2="640.8" stroke="#0e0e0e" stroke-width="1.7"/>
<line x1="392.5" y1="634.8" x2="381.9" y2="623.3" stroke="#0e0e0e" stroke-width="1.7"/>
<line x1="392.5" y1="634.8" x2="385.8" y2="630.2" stroke="#0e0e0e" stroke-width="1.7"/>
<circle cx="390.5" cy="630.8" r="2.7" fill="url(#gNub)"/>
<ellipse cx="422.2" cy="632.4" rx="4.6" ry="5.4" fill="#151515"/>
<line x1="421.7" y1="631.9" x2="414.8" y2="636.8" stroke="#0e0e0e" stroke-width="1.7"/>
<line x1="421.7" y1="631.9" x2="412.6" y2="633.2" stroke="#0e0e0e" stroke-width="1.7"/>
<line x1="421.7" y1="631.9" x2="429.9" y2="625.7" stroke="#0e0e0e" stroke-width="1.7"/>
<line x1="421.7" y1="631.9" x2="420.6" y2="637.1" stroke="#0e0e0e" stroke-width="1.7"/>
<line x1="421.7" y1="631.9" x2="427.4" y2="626.3" stroke="#0e0e0e" stroke-width="1.7"/>
<line x1="421.7" y1="631.9" x2="415" y2="631.9" stroke="#0e0e0e" stroke-width="1.7"/>
<circle cx="419.7" cy="627.9" r="2.7" fill="url(#gNub)"/>
<ellipse cx="452.8" cy="637.4" rx="4.6" ry="5.4" fill="#151515"/>
<line x1="452.3" y1="636.9" x2="457.7" y2="631.8" stroke="#0e0e0e" stroke-width="1.7"/>
<line x1="452.3" y1="636.9" x2="457.9" y2="630.5" stroke="#0e0e0e" stroke-width="1.7"/>
<line x1="452.3" y1="636.9" x2="456.1" y2="641.4" stroke="#0e0e0e" stroke-width="1.7"/>
<line x1="452.3" y1="636.9" x2="443.8" y2="641.1" stroke="#0e0e0e" stroke-width="1.7"/>
<line x1="452.3" y1="636.9" x2="457.4" y2="628.4" stroke="#0e0e0e" stroke-width="1.7"/>
<line x1="452.3" y1="636.9" x2="459.1" y2="639.7" stroke="#0e0e0e" stroke-width="1.7"/>
<circle cx="450.3" cy="632.9" r="2.7" fill="url(#gNub)"/>
<ellipse cx="483.5" cy="648.4" rx="4.6" ry="5.4" fill="#151515"/>
<line x1="483" y1="647.9" x2="474.2" y2="643" stroke="#0e0e0e" stroke-width="1.7"/>
<line x1="483" y1="647.9" x2="475.7" y2="649" stroke="#0e0e0e" stroke-width="1.7"/>
<line x1="483" y1="647.9" x2="492" y2="651.3" stroke="#0e0e0e" stroke-width="1.7"/>
<line x1="483" y1="647.9" x2="479.6" y2="642.4" stroke="#0e0e0e" stroke-width="1.7"/>
<line x1="483" y1="647.9" x2="479.1" y2="641.3" stroke="#0e0e0e" stroke-width="1.7"/>
<line x1="483" y1="647.9" x2="492.8" y2="649" stroke="#0e0e0e" stroke-width="1.7"/>
<circle cx="481" cy="643.9" r="2.7" fill="url(#gNub)"/>
<ellipse cx="513.3" cy="656.7" rx="4.6" ry="5.4" fill="#151515"/>
<line x1="512.8" y1="656.2" x2="521.2" y2="661.4" stroke="#0e0e0e" stroke-width="1.7"/>
<line x1="512.8" y1="656.2" x2="515.9" y2="660.6" stroke="#0e0e0e" stroke-width="1.7"/>
<line x1="512.8" y1="656.2" x2="502.1" y2="657.4" stroke="#0e0e0e" stroke-width="1.7"/>
<line x1="512.8" y1="656.2" x2="518.8" y2="658.8" stroke="#0e0e0e" stroke-width="1.7"/>
<line x1="512.8" y1="656.2" x2="505" y2="652.1" stroke="#0e0e0e" stroke-width="1.7"/>
<line x1="512.8" y1="656.2" x2="507.4" y2="650" stroke="#0e0e0e" stroke-width="1.7"/>
<circle cx="510.8" cy="652.2" r="2.7" fill="url(#gNub)"/>
<line x1="365.5" y1="685.7" x2="357.5" y2="675.8" stroke="#0e0e0e" stroke-width="1.7"/>
<line x1="365.5" y1="685.7" x2="357.3" y2="686.5" stroke="#0e0e0e" stroke-width="1.7"/>
<line x1="365.5" y1="685.7" x2="351.6" y2="673.2" stroke="#0e0e0e" stroke-width="1.7"/>
<line x1="365.5" y1="685.7" x2="351.7" y2="697.7" stroke="#0e0e0e" stroke-width="1.7"/>
<line x1="365.5" y1="685.7" x2="349.9" y2="692.1" stroke="#0e0e0e" stroke-width="1.7"/>
<line x1="365.5" y1="685.7" x2="355.3" y2="700.2" stroke="#0e0e0e" stroke-width="1.7"/>
<line x1="365.5" y1="685.7" x2="357" y2="673.3" stroke="#0e0e0e" stroke-width="1.7"/>
<line x1="365.5" y1="685.7" x2="351.5" y2="679" stroke="#0e0e0e" stroke-width="1.7"/>
<line x1="365.5" y1="685.7" x2="352.8" y2="679.9" stroke="#0e0e0e" stroke-width="1.7"/>
<circle cx="363.5" cy="681.7" r="2.7" fill="url(#gNub)"/>
<line x1="392.5" y1="675.1" x2="385.1" y2="688" stroke="#0e0e0e" stroke-width="1.7"/>
<line x1="392.5" y1="675.1" x2="380.3" y2="668.8" stroke="#0e0e0e" stroke-width="1.7"/>
<line x1="392.5" y1="675.1" x2="374.1" y2="673.9" stroke="#0e0e0e" stroke-width="1.7"/>
<line x1="392.5" y1="675.1" x2="382" y2="670.7" stroke="#0e0e0e" stroke-width="1.7"/>
<line x1="392.5" y1="675.1" x2="384" y2="678.9" stroke="#0e0e0e" stroke-width="1.7"/>
<line x1="392.5" y1="675.1" x2="374.8" y2="680.6" stroke="#0e0e0e" stroke-width="1.7"/>
<line x1="392.5" y1="675.1" x2="381.6" y2="676.4" stroke="#0e0e0e" stroke-width="1.7"/>
<line x1="392.5" y1="675.1" x2="378.6" y2="675.3" stroke="#0e0e0e" stroke-width="1.7"/>
<line x1="392.5" y1="675.1" x2="385.4" y2="669" stroke="#0e0e0e" stroke-width="1.7"/>
<circle cx="390.5" cy="671.1" r="2.7" fill="url(#gNub)"/>
<ellipse cx="422.2" cy="672.7" rx="4.6" ry="5.4" fill="#151515"/>
<line x1="421.7" y1="672.2" x2="426.3" y2="667.2" stroke="#0e0e0e" stroke-width="1.7"/>
<line x1="421.7" y1="672.2" x2="416.1" y2="668.5" stroke="#0e0e0e" stroke-width="1.7"/>
<line x1="421.7" y1="672.2" x2="421.9" y2="666.7" stroke="#0e0e0e" stroke-width="1.7"/>
<line x1="421.7" y1="672.2" x2="412.1" y2="675.1" stroke="#0e0e0e" stroke-width="1.7"/>
<line x1="421.7" y1="672.2" x2="415.2" y2="677.6" stroke="#0e0e0e" stroke-width="1.7"/>
<line x1="421.7" y1="672.2" x2="418.1" y2="677.2" stroke="#0e0e0e" stroke-width="1.7"/>
<circle cx="419.7" cy="668.2" r="2.7" fill="url(#gNub)"/>
<ellipse cx="452.8" cy="677.7" rx="4.6" ry="5.4" fill="#151515"/>
<line x1="452.3" y1="677.2" x2="450.4" y2="684.8" stroke="#0e0e0e" stroke-width="1.7"/>
<line x1="452.3" y1="677.2" x2="444" y2="679.8" stroke="#0e0e0e" stroke-width="1.7"/>
<line x1="452.3" y1="677.2" x2="445.6" y2="675.9" stroke="#0e0e0e" stroke-width="1.7"/>
<line x1="452.3" y1="677.2" x2="452.6" y2="670.9" stroke="#0e0e0e" stroke-width="1.7"/>
<line x1="452.3" y1="677.2" x2="445" y2="677.8" stroke="#0e0e0e" stroke-width="1.7"/>
<line x1="452.3" y1="677.2" x2="447.9" y2="679.8" stroke="#0e0e0e" stroke-width="1.7"/>
<circle cx="450.3" cy="673.2" r="2.7" fill="url(#gNub)"/>
<ellipse cx="483.5" cy="688.7" rx="4.6" ry="5.4" fill="#151515"/>
<line x1="483" y1="688.2" x2="476.9" y2="680" stroke="#0e0e0e" stroke-width="1.7"/>
<line x1="483" y1="688.2" x2="483.6" y2="679.8" stroke="#0e0e0e" stroke-width="1.7"/>
<line x1="483" y1="688.2" x2="476.3" y2="687.8" stroke="#0e0e0e" stroke-width="1.7"/>
<line x1="483" y1="688.2" x2="489.8" y2="688.7" stroke="#0e0e0e" stroke-width="1.7"/>
<line x1="483" y1="688.2" x2="483.8" y2="694.1" stroke="#0e0e0e" stroke-width="1.7"/>
<line x1="483" y1="688.2" x2="492.3" y2="684" stroke="#0e0e0e" stroke-width="1.7"/>
<circle cx="481" cy="684.2" r="2.7" fill="url(#gNub)"/>
<ellipse cx="513.3" cy="697" rx="4.6" ry="5.4" fill="#151515"/>
<line x1="512.8" y1="696.5" x2="507.8" y2="694.5" stroke="#0e0e0e" stroke-width="1.7"/>
<line x1="512.8" y1="696.5" x2="507" y2="691.6" stroke="#0e0e0e" stroke-width="1.7"/>
<line x1="512.8" y1="696.5" x2="512.3" y2="702.1" stroke="#0e0e0e" stroke-width="1.7"/>
<line x1="512.8" y1="696.5" x2="514.5" y2="685.9" stroke="#0e0e0e" stroke-width="1.7"/>
<line x1="512.8" y1="696.5" x2="512.4" y2="702.4" stroke="#0e0e0e" stroke-width="1.7"/>
<line x1="512.8" y1="696.5" x2="509.1" y2="690.4" stroke="#0e0e0e" stroke-width="1.7"/>
<circle cx="510.8" cy="692.5" r="2.7" fill="url(#gNub)"/>
<line x1="365.5" y1="726" x2="352.4" y2="732.9" stroke="#0e0e0e" stroke-width="1.7"/>
<line x1="365.5" y1="726" x2="354.7" y2="739.1" stroke="#0e0e0e" stroke-width="1.7"/>
<line x1="365.5" y1="726" x2="349.5" y2="728" stroke="#0e0e0e" stroke-width="1.7"/>
<line x1="365.5" y1="726" x2="352.4" y2="735.7" stroke="#0e0e0e" stroke-width="1.7"/>
<line x1="365.5" y1="726" x2="348.9" y2="726.5" stroke="#0e0e0e" stroke-width="1.7"/>
<line x1="365.5" y1="726" x2="350.2" y2="735.6" stroke="#0e0e0e" stroke-width="1.7"/>
<line x1="365.5" y1="726" x2="352.7" y2="713.9" stroke="#0e0e0e" stroke-width="1.7"/>
<line x1="365.5" y1="726" x2="357.1" y2="711.8" stroke="#0e0e0e" stroke-width="1.7"/>
<line x1="365.5" y1="726" x2="352.6" y2="729.7" stroke="#0e0e0e" stroke-width="1.7"/>
<circle cx="363.5" cy="722" r="2.7" fill="url(#gNub)"/>
<line x1="392.5" y1="715.4" x2="386.5" y2="728.4" stroke="#0e0e0e" stroke-width="1.7"/>
<line x1="392.5" y1="715.4" x2="376" y2="713.8" stroke="#0e0e0e" stroke-width="1.7"/>
<line x1="392.5" y1="715.4" x2="383.8" y2="727.2" stroke="#0e0e0e" stroke-width="1.7"/>
<line x1="392.5" y1="715.4" x2="379.7" y2="713" stroke="#0e0e0e" stroke-width="1.7"/>
<line x1="392.5" y1="715.4" x2="376.5" y2="715.3" stroke="#0e0e0e" stroke-width="1.7"/>
<line x1="392.5" y1="715.4" x2="381.1" y2="710.8" stroke="#0e0e0e" stroke-width="1.7"/>
<line x1="392.5" y1="715.4" x2="380.5" y2="718" stroke="#0e0e0e" stroke-width="1.7"/>
<line x1="392.5" y1="715.4" x2="376.7" y2="710.2" stroke="#0e0e0e" stroke-width="1.7"/>
<line x1="392.5" y1="715.4" x2="383.9" y2="725.8" stroke="#0e0e0e" stroke-width="1.7"/>
<circle cx="390.5" cy="711.4" r="2.7" fill="url(#gNub)"/>
<ellipse cx="422.2" cy="713" rx="4.6" ry="5.4" fill="#151515"/>
<line x1="421.7" y1="712.5" x2="416" y2="710.4" stroke="#0e0e0e" stroke-width="1.7"/>
<line x1="421.7" y1="712.5" x2="419.7" y2="707" stroke="#0e0e0e" stroke-width="1.7"/>
<line x1="421.7" y1="712.5" x2="414.1" y2="716.4" stroke="#0e0e0e" stroke-width="1.7"/>
<line x1="421.7" y1="712.5" x2="430.7" y2="707" stroke="#0e0e0e" stroke-width="1.7"/>
<line x1="421.7" y1="712.5" x2="417.2" y2="703.5" stroke="#0e0e0e" stroke-width="1.7"/>
<line x1="421.7" y1="712.5" x2="427.4" y2="721.6" stroke="#0e0e0e" stroke-width="1.7"/>
<circle cx="419.7" cy="708.5" r="2.7" fill="url(#gNub)"/>
<ellipse cx="452.8" cy="718" rx="4.6" ry="5.4" fill="#151515"/>
<line x1="452.3" y1="717.5" x2="454.4" y2="710.3" stroke="#0e0e0e" stroke-width="1.7"/>
<line x1="452.3" y1="717.5" x2="456.6" y2="720.2" stroke="#0e0e0e" stroke-width="1.7"/>
<line x1="452.3" y1="717.5" x2="460.3" y2="715.1" stroke="#0e0e0e" stroke-width="1.7"/>
<line x1="452.3" y1="717.5" x2="441.8" y2="717.4" stroke="#0e0e0e" stroke-width="1.7"/>
<line x1="452.3" y1="717.5" x2="453.5" y2="725.7" stroke="#0e0e0e" stroke-width="1.7"/>
<line x1="452.3" y1="717.5" x2="460.4" y2="717.6" stroke="#0e0e0e" stroke-width="1.7"/>
<circle cx="450.3" cy="713.5" r="2.7" fill="url(#gNub)"/>
<ellipse cx="483.5" cy="729" rx="4.6" ry="5.4" fill="#151515"/>
<line x1="483" y1="728.5" x2="473.9" y2="729.4" stroke="#0e0e0e" stroke-width="1.7"/>
<line x1="483" y1="728.5" x2="477.5" y2="723.9" stroke="#0e0e0e" stroke-width="1.7"/>
<line x1="483" y1="728.5" x2="477.1" y2="732.4" stroke="#0e0e0e" stroke-width="1.7"/>
<line x1="483" y1="728.5" x2="491.6" y2="731.4" stroke="#0e0e0e" stroke-width="1.7"/>
<line x1="483" y1="728.5" x2="477.5" y2="729.3" stroke="#0e0e0e" stroke-width="1.7"/>
<line x1="483" y1="728.5" x2="477.8" y2="723.2" stroke="#0e0e0e" stroke-width="1.7"/>
<circle cx="481" cy="724.5" r="2.7" fill="url(#gNub)"/>
<ellipse cx="513.3" cy="737.3" rx="4.6" ry="5.4" fill="#151515"/>
<line x1="512.8" y1="736.8" x2="505" y2="740" stroke="#0e0e0e" stroke-width="1.7"/>
<line x1="512.8" y1="736.8" x2="520.7" y2="744.2" stroke="#0e0e0e" stroke-width="1.7"/>
<line x1="512.8" y1="736.8" x2="505.2" y2="736.2" stroke="#0e0e0e" stroke-width="1.7"/>
<line x1="512.8" y1="736.8" x2="505" y2="744.5" stroke="#0e0e0e" stroke-width="1.7"/>
<line x1="512.8" y1="736.8" x2="508.3" y2="730" stroke="#0e0e0e" stroke-width="1.7"/>
<line x1="512.8" y1="736.8" x2="515.2" y2="742.3" stroke="#0e0e0e" stroke-width="1.7"/>
<circle cx="510.8" cy="732.8" r="2.7" fill="url(#gNub)"/>
<line x1="365.5" y1="766.3" x2="347.7" y2="760.3" stroke="#0e0e0e" stroke-width="1.7"/>
<line x1="365.5" y1="766.3" x2="356.3" y2="776.3" stroke="#0e0e0e" stroke-width="1.7"/>
<line x1="365.5" y1="766.3" x2="353" y2="753.5" stroke="#0e0e0e" stroke-width="1.7"/>
<line x1="365.5" y1="766.3" x2="350.7" y2="774.7" stroke="#0e0e0e" stroke-width="1.7"/>
<line x1="365.5" y1="766.3" x2="359.1" y2="782.8" stroke="#0e0e0e" stroke-width="1.7"/>
<line x1="365.5" y1="766.3" x2="355.8" y2="765.4" stroke="#0e0e0e" stroke-width="1.7"/>
<line x1="365.5" y1="766.3" x2="352.9" y2="761.1" stroke="#0e0e0e" stroke-width="1.7"/>
<line x1="365.5" y1="766.3" x2="355.5" y2="767.3" stroke="#0e0e0e" stroke-width="1.7"/>
<line x1="365.5" y1="766.3" x2="353.5" y2="757.4" stroke="#0e0e0e" stroke-width="1.7"/>
<circle cx="363.5" cy="762.3" r="2.7" fill="url(#gNub)"/>
<line x1="392.5" y1="755.7" x2="381.2" y2="759.5" stroke="#0e0e0e" stroke-width="1.7"/>
<line x1="392.5" y1="755.7" x2="387.2" y2="769.7" stroke="#0e0e0e" stroke-width="1.7"/>
<line x1="392.5" y1="755.7" x2="385.2" y2="745.5" stroke="#0e0e0e" stroke-width="1.7"/>
<line x1="392.5" y1="755.7" x2="384.1" y2="763.4" stroke="#0e0e0e" stroke-width="1.7"/>
<line x1="392.5" y1="755.7" x2="385.5" y2="759.7" stroke="#0e0e0e" stroke-width="1.7"/>
<line x1="392.5" y1="755.7" x2="376.3" y2="749.7" stroke="#0e0e0e" stroke-width="1.7"/>
<line x1="392.5" y1="755.7" x2="377.8" y2="760" stroke="#0e0e0e" stroke-width="1.7"/>
<line x1="392.5" y1="755.7" x2="381.4" y2="748.1" stroke="#0e0e0e" stroke-width="1.7"/>
<line x1="392.5" y1="755.7" x2="381.8" y2="758" stroke="#0e0e0e" stroke-width="1.7"/>
<circle cx="390.5" cy="751.7" r="2.7" fill="url(#gNub)"/>
<ellipse cx="422.2" cy="753.3" rx="4.6" ry="5.4" fill="#151515"/>
<line x1="421.7" y1="752.8" x2="416.8" y2="759.3" stroke="#0e0e0e" stroke-width="1.7"/>
<line x1="421.7" y1="752.8" x2="430.1" y2="753" stroke="#0e0e0e" stroke-width="1.7"/>
<line x1="421.7" y1="752.8" x2="416.8" y2="749.8" stroke="#0e0e0e" stroke-width="1.7"/>
<line x1="421.7" y1="752.8" x2="427" y2="744.8" stroke="#0e0e0e" stroke-width="1.7"/>
<line x1="421.7" y1="752.8" x2="426.1" y2="749.3" stroke="#0e0e0e" stroke-width="1.7"/>
<line x1="421.7" y1="752.8" x2="425.6" y2="745.7" stroke="#0e0e0e" stroke-width="1.7"/>
<circle cx="419.7" cy="748.8" r="2.7" fill="url(#gNub)"/>
<ellipse cx="452.8" cy="758.3" rx="4.6" ry="5.4" fill="#151515"/>
<line x1="452.3" y1="757.8" x2="456.1" y2="765.6" stroke="#0e0e0e" stroke-width="1.7"/>
<line x1="452.3" y1="757.8" x2="454.2" y2="762.9" stroke="#0e0e0e" stroke-width="1.7"/>
<line x1="452.3" y1="757.8" x2="461.9" y2="757.1" stroke="#0e0e0e" stroke-width="1.7"/>
<line x1="452.3" y1="757.8" x2="448.2" y2="749.5" stroke="#0e0e0e" stroke-width="1.7"/>
<line x1="452.3" y1="757.8" x2="448.6" y2="753.1" stroke="#0e0e0e" stroke-width="1.7"/>
<line x1="452.3" y1="757.8" x2="451.7" y2="752.3" stroke="#0e0e0e" stroke-width="1.7"/>
<circle cx="450.3" cy="753.8" r="2.7" fill="url(#gNub)"/>
<ellipse cx="483.5" cy="769.3" rx="4.6" ry="5.4" fill="#151515"/>
<line x1="483" y1="768.8" x2="490" y2="773.6" stroke="#0e0e0e" stroke-width="1.7"/>
<line x1="483" y1="768.8" x2="478.5" y2="762.5" stroke="#0e0e0e" stroke-width="1.7"/>
<line x1="483" y1="768.8" x2="479" y2="765.2" stroke="#0e0e0e" stroke-width="1.7"/>
<line x1="483" y1="768.8" x2="489.6" y2="774.1" stroke="#0e0e0e" stroke-width="1.7"/>
<line x1="483" y1="768.8" x2="490.4" y2="770.7" stroke="#0e0e0e" stroke-width="1.7"/>
<line x1="483" y1="768.8" x2="478.3" y2="773.2" stroke="#0e0e0e" stroke-width="1.7"/>
<circle cx="481" cy="764.8" r="2.7" fill="url(#gNub)"/>
<ellipse cx="513.3" cy="777.6" rx="4.6" ry="5.4" fill="#151515"/>
<line x1="512.8" y1="777.1" x2="523" y2="774.2" stroke="#0e0e0e" stroke-width="1.7"/>
<line x1="512.8" y1="777.1" x2="517" y2="782.6" stroke="#0e0e0e" stroke-width="1.7"/>
<line x1="512.8" y1="777.1" x2="520.8" y2="783" stroke="#0e0e0e" stroke-width="1.7"/>
<line x1="512.8" y1="777.1" x2="509.9" y2="769" stroke="#0e0e0e" stroke-width="1.7"/>
<line x1="512.8" y1="777.1" x2="520.5" y2="779.1" stroke="#0e0e0e" stroke-width="1.7"/>
<line x1="512.8" y1="777.1" x2="518.9" y2="779.1" stroke="#0e0e0e" stroke-width="1.7"/>
<circle cx="510.8" cy="773.1" r="2.7" fill="url(#gNub)"/>
<line x1="365.5" y1="806.6" x2="349.8" y2="804" stroke="#0e0e0e" stroke-width="1.7"/>
<line x1="365.5" y1="806.6" x2="355.8" y2="800.7" stroke="#0e0e0e" stroke-width="1.7"/>
<line x1="365.5" y1="806.6" x2="357.6" y2="817.3" stroke="#0e0e0e" stroke-width="1.7"/>
<line x1="365.5" y1="806.6" x2="357.7" y2="813.9" stroke="#0e0e0e" stroke-width="1.7"/>
<line x1="365.5" y1="806.6" x2="356" y2="799.3" stroke="#0e0e0e" stroke-width="1.7"/>
<line x1="365.5" y1="806.6" x2="350.3" y2="795.7" stroke="#0e0e0e" stroke-width="1.7"/>
<line x1="365.5" y1="806.6" x2="352.4" y2="801.2" stroke="#0e0e0e" stroke-width="1.7"/>
<line x1="365.5" y1="806.6" x2="355.7" y2="796.8" stroke="#0e0e0e" stroke-width="1.7"/>
<line x1="365.5" y1="806.6" x2="353.2" y2="804.4" stroke="#0e0e0e" stroke-width="1.7"/>
<circle cx="363.5" cy="802.6" r="2.7" fill="url(#gNub)"/>
<line x1="392.5" y1="796" x2="386.7" y2="788.7" stroke="#0e0e0e" stroke-width="1.7"/>
<line x1="392.5" y1="796" x2="384.5" y2="804.7" stroke="#0e0e0e" stroke-width="1.7"/>
<line x1="392.5" y1="796" x2="383.6" y2="791.2" stroke="#0e0e0e" stroke-width="1.7"/>
<line x1="392.5" y1="796" x2="382.7" y2="791.8" stroke="#0e0e0e" stroke-width="1.7"/>
<line x1="392.5" y1="796" x2="383.8" y2="783.4" stroke="#0e0e0e" stroke-width="1.7"/>
<line x1="392.5" y1="796" x2="383.1" y2="793.4" stroke="#0e0e0e" stroke-width="1.7"/>
<line x1="392.5" y1="796" x2="384.8" y2="800.8" stroke="#0e0e0e" stroke-width="1.7"/>
<line x1="392.5" y1="796" x2="376.9" y2="788.8" stroke="#0e0e0e" stroke-width="1.7"/>
<line x1="392.5" y1="796" x2="383.1" y2="787.2" stroke="#0e0e0e" stroke-width="1.7"/>
<circle cx="390.5" cy="792" r="2.7" fill="url(#gNub)"/>
<ellipse cx="422.2" cy="793.6" rx="4.6" ry="5.4" fill="#151515"/>
<line x1="421.7" y1="793.1" x2="426.8" y2="801.5" stroke="#0e0e0e" stroke-width="1.7"/>
<line x1="421.7" y1="793.1" x2="425.5" y2="787.1" stroke="#0e0e0e" stroke-width="1.7"/>
<line x1="421.7" y1="793.1" x2="420.5" y2="800.3" stroke="#0e0e0e" stroke-width="1.7"/>
<line x1="421.7" y1="793.1" x2="427.7" y2="794.7" stroke="#0e0e0e" stroke-width="1.7"/>
<line x1="421.7" y1="793.1" x2="429.4" y2="795.5" stroke="#0e0e0e" stroke-width="1.7"/>
<line x1="421.7" y1="793.1" x2="422.8" y2="785.5" stroke="#0e0e0e" stroke-width="1.7"/>
<circle cx="419.7" cy="789.1" r="2.7" fill="url(#gNub)"/>
<ellipse cx="452.8" cy="798.6" rx="4.6" ry="5.4" fill="#151515"/>
<line x1="452.3" y1="798.1" x2="458.6" y2="791.4" stroke="#0e0e0e" stroke-width="1.7"/>
<line x1="452.3" y1="798.1" x2="451.6" y2="787.8" stroke="#0e0e0e" stroke-width="1.7"/>
<line x1="452.3" y1="798.1" x2="446.2" y2="801.9" stroke="#0e0e0e" stroke-width="1.7"/>
<line x1="452.3" y1="798.1" x2="452.5" y2="789.5" stroke="#0e0e0e" stroke-width="1.7"/>
<line x1="452.3" y1="798.1" x2="454.7" y2="788.2" stroke="#0e0e0e" stroke-width="1.7"/>
<line x1="452.3" y1="798.1" x2="458.1" y2="792.5" stroke="#0e0e0e" stroke-width="1.7"/>
<circle cx="450.3" cy="794.1" r="2.7" fill="url(#gNub)"/>
<ellipse cx="483.5" cy="809.6" rx="4.6" ry="5.4" fill="#151515"/>
<line x1="483" y1="809.1" x2="476.6" y2="810.8" stroke="#0e0e0e" stroke-width="1.7"/>
<line x1="483" y1="809.1" x2="484" y2="816.3" stroke="#0e0e0e" stroke-width="1.7"/>
<line x1="483" y1="809.1" x2="478.4" y2="816.1" stroke="#0e0e0e" stroke-width="1.7"/>
<line x1="483" y1="809.1" x2="480.3" y2="802.2" stroke="#0e0e0e" stroke-width="1.7"/>
<line x1="483" y1="809.1" x2="488.2" y2="805.9" stroke="#0e0e0e" stroke-width="1.7"/>
<line x1="483" y1="809.1" x2="487.1" y2="814.6" stroke="#0e0e0e" stroke-width="1.7"/>
<circle cx="481" cy="805.1" r="2.7" fill="url(#gNub)"/>
<ellipse cx="513.3" cy="817.9" rx="4.6" ry="5.4" fill="#151515"/>
<line x1="512.8" y1="817.4" x2="509.9" y2="822.2" stroke="#0e0e0e" stroke-width="1.7"/>
<line x1="512.8" y1="817.4" x2="506.2" y2="820.1" stroke="#0e0e0e" stroke-width="1.7"/>
<line x1="512.8" y1="817.4" x2="506" y2="817.4" stroke="#0e0e0e" stroke-width="1.7"/>
<line x1="512.8" y1="817.4" x2="519.1" y2="814.6" stroke="#0e0e0e" stroke-width="1.7"/>
<line x1="512.8" y1="817.4" x2="513.6" y2="811.7" stroke="#0e0e0e" stroke-width="1.7"/>
<line x1="512.8" y1="817.4" x2="511.4" y2="823.9" stroke="#0e0e0e" stroke-width="1.7"/>
<circle cx="510.8" cy="813.4" r="2.7" fill="url(#gNub)"/>
</g>
<g id="pegs" stroke-linecap="round">
<line x1="523.5" y1="461.4" x2="548.2" y2="461.3" stroke="#0d0d0d" stroke-width="1.6"/>
<line x1="523.5" y1="461.4" x2="545" y2="450" stroke="#0d0d0d" stroke-width="1.6"/>
<line x1="523.5" y1="461.4" x2="534.9" y2="453.6" stroke="#0d0d0d" stroke-width="1.6"/>
<line x1="523.5" y1="461.4" x2="535.8" y2="463.4" stroke="#0d0d0d" stroke-width="1.6"/>
<line x1="523.5" y1="461.4" x2="543.4" y2="453.8" stroke="#0d0d0d" stroke-width="1.6"/>
<line x1="523.5" y1="461.4" x2="541.2" y2="462.6" stroke="#0d0d0d" stroke-width="1.6"/>
<line x1="523.5" y1="461.4" x2="544" y2="454.2" stroke="#0d0d0d" stroke-width="1.6"/>
<line x1="523.5" y1="461.4" x2="546.9" y2="466.1" stroke="#0d0d0d" stroke-width="1.6"/>
<line x1="520.5" y1="460.4" x2="540.5" y2="455.2" stroke="#2a2a2a" stroke-width="4"/>
<circle cx="540.5" cy="455.2" r="2.5" fill="#484848"/>
<line x1="552.4" y1="459.2" x2="573.2" y2="460.5" stroke="#0d0d0d" stroke-width="1.6"/>
<line x1="552.4" y1="459.2" x2="565.5" y2="463" stroke="#0d0d0d" stroke-width="1.6"/>
<line x1="552.4" y1="459.2" x2="569.8" y2="445.3" stroke="#0d0d0d" stroke-width="1.6"/>
<line x1="552.4" y1="459.2" x2="563.9" y2="454.2" stroke="#0d0d0d" stroke-width="1.6"/>
<line x1="552.4" y1="459.2" x2="565.1" y2="465.6" stroke="#0d0d0d" stroke-width="1.6"/>
<line x1="552.4" y1="459.2" x2="568.1" y2="463.4" stroke="#0d0d0d" stroke-width="1.6"/>
<line x1="552.4" y1="459.2" x2="564.9" y2="459.5" stroke="#0d0d0d" stroke-width="1.6"/>
<line x1="552.4" y1="459.2" x2="573.2" y2="461.6" stroke="#0d0d0d" stroke-width="1.6"/>
<line x1="549.4" y1="458.2" x2="569.4" y2="453" stroke="#2a2a2a" stroke-width="4"/>
<circle cx="569.4" cy="453" r="2.5" fill="#484848"/>
<line x1="523.5" y1="501.7" x2="546.3" y2="508.5" stroke="#0d0d0d" stroke-width="1.6"/>
<line x1="523.5" y1="501.7" x2="545" y2="496.9" stroke="#0d0d0d" stroke-width="1.6"/>
<line x1="523.5" y1="501.7" x2="541.3" y2="505.2" stroke="#0d0d0d" stroke-width="1.6"/>
<line x1="523.5" y1="501.7" x2="539.2" y2="495.6" stroke="#0d0d0d" stroke-width="1.6"/>
<line x1="523.5" y1="501.7" x2="544" y2="513.6" stroke="#0d0d0d" stroke-width="1.6"/>
<line x1="523.5" y1="501.7" x2="537.6" y2="494.2" stroke="#0d0d0d" stroke-width="1.6"/>
<line x1="523.5" y1="501.7" x2="544.9" y2="512.5" stroke="#0d0d0d" stroke-width="1.6"/>
<line x1="523.5" y1="501.7" x2="535.7" y2="498.3" stroke="#0d0d0d" stroke-width="1.6"/>
<line x1="520.5" y1="500.7" x2="540.5" y2="495.5" stroke="#2a2a2a" stroke-width="4"/>
<circle cx="540.5" cy="495.5" r="2.5" fill="#484848"/>
<line x1="552.4" y1="499.5" x2="565.7" y2="502.2" stroke="#0d0d0d" stroke-width="1.6"/>
<line x1="552.4" y1="499.5" x2="565.4" y2="492.1" stroke="#0d0d0d" stroke-width="1.6"/>
<line x1="552.4" y1="499.5" x2="570" y2="485.4" stroke="#0d0d0d" stroke-width="1.6"/>
<line x1="552.4" y1="499.5" x2="572.3" y2="508.1" stroke="#0d0d0d" stroke-width="1.6"/>
<line x1="552.4" y1="499.5" x2="574.9" y2="499.6" stroke="#0d0d0d" stroke-width="1.6"/>
<line x1="552.4" y1="499.5" x2="565.9" y2="491" stroke="#0d0d0d" stroke-width="1.6"/>
<line x1="552.4" y1="499.5" x2="575.6" y2="509.4" stroke="#0d0d0d" stroke-width="1.6"/>
<line x1="552.4" y1="499.5" x2="577.4" y2="498.7" stroke="#0d0d0d" stroke-width="1.6"/>
<line x1="549.4" y1="498.5" x2="569.4" y2="493.3" stroke="#2a2a2a" stroke-width="4"/>
<circle cx="569.4" cy="493.3" r="2.5" fill="#484848"/>
<line x1="523.5" y1="542" x2="544.2" y2="533.7" stroke="#0d0d0d" stroke-width="1.6"/>
<line x1="523.5" y1="542" x2="541.1" y2="530.9" stroke="#0d0d0d" stroke-width="1.6"/>
<line x1="523.5" y1="542" x2="536.2" y2="541.2" stroke="#0d0d0d" stroke-width="1.6"/>
<line x1="523.5" y1="542" x2="540.1" y2="535.2" stroke="#0d0d0d" stroke-width="1.6"/>
<line x1="523.5" y1="542" x2="548.2" y2="538.4" stroke="#0d0d0d" stroke-width="1.6"/>
<line x1="523.5" y1="542" x2="544.7" y2="550" stroke="#0d0d0d" stroke-width="1.6"/>
<line x1="523.5" y1="542" x2="543" y2="551.9" stroke="#0d0d0d" stroke-width="1.6"/>
<line x1="523.5" y1="542" x2="537" y2="534.1" stroke="#0d0d0d" stroke-width="1.6"/>
<line x1="520.5" y1="541" x2="540.5" y2="535.8" stroke="#2a2a2a" stroke-width="4"/>
<circle cx="540.5" cy="535.8" r="2.5" fill="#484848"/>
<line x1="552.4" y1="539.8" x2="577.5" y2="534.9" stroke="#0d0d0d" stroke-width="1.6"/>
<line x1="552.4" y1="539.8" x2="571.1" y2="533.8" stroke="#0d0d0d" stroke-width="1.6"/>
<line x1="552.4" y1="539.8" x2="565" y2="542.3" stroke="#0d0d0d" stroke-width="1.6"/>
<line x1="552.4" y1="539.8" x2="570.1" y2="540.7" stroke="#0d0d0d" stroke-width="1.6"/>
<line x1="552.4" y1="539.8" x2="568.2" y2="544" stroke="#0d0d0d" stroke-width="1.6"/>
<line x1="552.4" y1="539.8" x2="573" y2="547.2" stroke="#0d0d0d" stroke-width="1.6"/>
<line x1="552.4" y1="539.8" x2="566.8" y2="534.4" stroke="#0d0d0d" stroke-width="1.6"/>
<line x1="552.4" y1="539.8" x2="571.2" y2="543.7" stroke="#0d0d0d" stroke-width="1.6"/>
<line x1="549.4" y1="538.8" x2="569.4" y2="533.6" stroke="#2a2a2a" stroke-width="4"/>
<circle cx="569.4" cy="533.6" r="2.5" fill="#484848"/>
<line x1="523.5" y1="582.3" x2="548.6" y2="580.9" stroke="#0d0d0d" stroke-width="1.6"/>
<line x1="523.5" y1="582.3" x2="539.7" y2="583.4" stroke="#0d0d0d" stroke-width="1.6"/>
<line x1="523.5" y1="582.3" x2="534.8" y2="574.1" stroke="#0d0d0d" stroke-width="1.6"/>
<line x1="523.5" y1="582.3" x2="539.8" y2="578.8" stroke="#0d0d0d" stroke-width="1.6"/>
<line x1="523.5" y1="582.3" x2="540.3" y2="572.2" stroke="#0d0d0d" stroke-width="1.6"/>
<line x1="523.5" y1="582.3" x2="536.3" y2="575.8" stroke="#0d0d0d" stroke-width="1.6"/>
<line x1="523.5" y1="582.3" x2="542.7" y2="575.4" stroke="#0d0d0d" stroke-width="1.6"/>
<line x1="523.5" y1="582.3" x2="546.2" y2="580.5" stroke="#0d0d0d" stroke-width="1.6"/>
<line x1="520.5" y1="581.3" x2="540.5" y2="576.1" stroke="#2a2a2a" stroke-width="4"/>
<circle cx="540.5" cy="576.1" r="2.5" fill="#484848"/>
<line x1="552.4" y1="580.1" x2="563.9" y2="572.8" stroke="#0d0d0d" stroke-width="1.6"/>
<line x1="552.4" y1="580.1" x2="569.3" y2="582.5" stroke="#0d0d0d" stroke-width="1.6"/>
<line x1="552.4" y1="580.1" x2="564.8" y2="583.3" stroke="#0d0d0d" stroke-width="1.6"/>
<line x1="552.4" y1="580.1" x2="567" y2="582.4" stroke="#0d0d0d" stroke-width="1.6"/>
<line x1="552.4" y1="580.1" x2="569.3" y2="573" stroke="#0d0d0d" stroke-width="1.6"/>
<line x1="552.4" y1="580.1" x2="567.8" y2="586.1" stroke="#0d0d0d" stroke-width="1.6"/>
<line x1="552.4" y1="580.1" x2="569.4" y2="578.5" stroke="#0d0d0d" stroke-width="1.6"/>
<line x1="552.4" y1="580.1" x2="564.8" y2="583.9" stroke="#0d0d0d" stroke-width="1.6"/>
<line x1="549.4" y1="579.1" x2="569.4" y2="573.9" stroke="#2a2a2a" stroke-width="4"/>
<circle cx="569.4" cy="573.9" r="2.5" fill="#484848"/>
<line x1="523.5" y1="622.6" x2="546.1" y2="635.3" stroke="#0d0d0d" stroke-width="1.6"/>
<line x1="523.5" y1="622.6" x2="535.3" y2="616.8" stroke="#0d0d0d" stroke-width="1.6"/>
<line x1="523.5" y1="622.6" x2="547" y2="612.3" stroke="#0d0d0d" stroke-width="1.6"/>
<line x1="523.5" y1="622.6" x2="536.7" y2="619.8" stroke="#0d0d0d" stroke-width="1.6"/>
<line x1="523.5" y1="622.6" x2="541.5" y2="620.5" stroke="#0d0d0d" stroke-width="1.6"/>
<line x1="523.5" y1="622.6" x2="542.4" y2="628" stroke="#0d0d0d" stroke-width="1.6"/>
<line x1="523.5" y1="622.6" x2="545.2" y2="634.8" stroke="#0d0d0d" stroke-width="1.6"/>
<line x1="523.5" y1="622.6" x2="543.2" y2="616.1" stroke="#0d0d0d" stroke-width="1.6"/>
<line x1="520.5" y1="621.6" x2="540.5" y2="616.4" stroke="#2a2a2a" stroke-width="4"/>
<circle cx="540.5" cy="616.4" r="2.5" fill="#484848"/>
<line x1="552.4" y1="620.4" x2="568.6" y2="606.7" stroke="#0d0d0d" stroke-width="1.6"/>
<line x1="552.4" y1="620.4" x2="567.6" y2="623.3" stroke="#0d0d0d" stroke-width="1.6"/>
<line x1="552.4" y1="620.4" x2="564.1" y2="624.5" stroke="#0d0d0d" stroke-width="1.6"/>
<line x1="552.4" y1="620.4" x2="573.4" y2="609.2" stroke="#0d0d0d" stroke-width="1.6"/>
<line x1="552.4" y1="620.4" x2="566.9" y2="622.3" stroke="#0d0d0d" stroke-width="1.6"/>
<line x1="552.4" y1="620.4" x2="575.1" y2="613" stroke="#0d0d0d" stroke-width="1.6"/>
<line x1="552.4" y1="620.4" x2="563.5" y2="611.2" stroke="#0d0d0d" stroke-width="1.6"/>
<line x1="552.4" y1="620.4" x2="573.1" y2="609" stroke="#0d0d0d" stroke-width="1.6"/>
<line x1="549.4" y1="619.4" x2="569.4" y2="614.2" stroke="#2a2a2a" stroke-width="4"/>
<circle cx="569.4" cy="614.2" r="2.5" fill="#484848"/>
<line x1="523.5" y1="662.9" x2="538.4" y2="655.8" stroke="#0d0d0d" stroke-width="1.6"/>
<line x1="523.5" y1="662.9" x2="546.1" y2="669.5" stroke="#0d0d0d" stroke-width="1.6"/>
<line x1="523.5" y1="662.9" x2="540.6" y2="664.7" stroke="#0d0d0d" stroke-width="1.6"/>
<line x1="523.5" y1="662.9" x2="540.3" y2="659.6" stroke="#0d0d0d" stroke-width="1.6"/>
<line x1="523.5" y1="662.9" x2="536.5" y2="654.7" stroke="#0d0d0d" stroke-width="1.6"/>
<line x1="523.5" y1="662.9" x2="541.3" y2="672" stroke="#0d0d0d" stroke-width="1.6"/>
<line x1="523.5" y1="662.9" x2="545.9" y2="656" stroke="#0d0d0d" stroke-width="1.6"/>
<line x1="523.5" y1="662.9" x2="546.2" y2="653.3" stroke="#0d0d0d" stroke-width="1.6"/>
<line x1="520.5" y1="661.9" x2="540.5" y2="656.7" stroke="#2a2a2a" stroke-width="4"/>
<circle cx="540.5" cy="656.7" r="2.5" fill="#484848"/>
<line x1="552.4" y1="660.7" x2="566.7" y2="648.3" stroke="#0d0d0d" stroke-width="1.6"/>
<line x1="552.4" y1="660.7" x2="566.5" y2="658.8" stroke="#0d0d0d" stroke-width="1.6"/>
<line x1="552.4" y1="660.7" x2="572.4" y2="663.3" stroke="#0d0d0d" stroke-width="1.6"/>
<line x1="552.4" y1="660.7" x2="572.2" y2="669.5" stroke="#0d0d0d" stroke-width="1.6"/>
<line x1="552.4" y1="660.7" x2="569.7" y2="666.2" stroke="#0d0d0d" stroke-width="1.6"/>
<line x1="552.4" y1="660.7" x2="562.1" y2="651.7" stroke="#0d0d0d" stroke-width="1.6"/>
<line x1="552.4" y1="660.7" x2="568.6" y2="668.9" stroke="#0d0d0d" stroke-width="1.6"/>
<line x1="552.4" y1="660.7" x2="573.7" y2="666.6" stroke="#0d0d0d" stroke-width="1.6"/>
<line x1="549.4" y1="659.7" x2="569.4" y2="654.5" stroke="#2a2a2a" stroke-width="4"/>
<circle cx="569.4" cy="654.5" r="2.5" fill="#484848"/>
<line x1="523.5" y1="703.2" x2="544.1" y2="715.1" stroke="#0d0d0d" stroke-width="1.6"/>
<line x1="523.5" y1="703.2" x2="542.5" y2="690.3" stroke="#0d0d0d" stroke-width="1.6"/>
<line x1="523.5" y1="703.2" x2="539.5" y2="702.7" stroke="#0d0d0d" stroke-width="1.6"/>
<line x1="523.5" y1="703.2" x2="541.6" y2="696.8" stroke="#0d0d0d" stroke-width="1.6"/>
<line x1="523.5" y1="703.2" x2="540.2" y2="702.8" stroke="#0d0d0d" stroke-width="1.6"/>
<line x1="523.5" y1="703.2" x2="544.8" y2="702.2" stroke="#0d0d0d" stroke-width="1.6"/>
<line x1="523.5" y1="703.2" x2="544.4" y2="690.2" stroke="#0d0d0d" stroke-width="1.6"/>
<line x1="523.5" y1="703.2" x2="538.9" y2="708.1" stroke="#0d0d0d" stroke-width="1.6"/>
<line x1="520.5" y1="702.2" x2="540.5" y2="697" stroke="#2a2a2a" stroke-width="4"/>
<circle cx="540.5" cy="697" r="2.5" fill="#484848"/>
<line x1="552.4" y1="701" x2="572.3" y2="699.8" stroke="#0d0d0d" stroke-width="1.6"/>
<line x1="552.4" y1="701" x2="567.1" y2="702" stroke="#0d0d0d" stroke-width="1.6"/>
<line x1="552.4" y1="701" x2="567.5" y2="707.6" stroke="#0d0d0d" stroke-width="1.6"/>
<line x1="552.4" y1="701" x2="577.9" y2="698.9" stroke="#0d0d0d" stroke-width="1.6"/>
<line x1="552.4" y1="701" x2="571.4" y2="686.1" stroke="#0d0d0d" stroke-width="1.6"/>
<line x1="552.4" y1="701" x2="571" y2="683.6" stroke="#0d0d0d" stroke-width="1.6"/>
<line x1="552.4" y1="701" x2="574.8" y2="694.3" stroke="#0d0d0d" stroke-width="1.6"/>
<line x1="552.4" y1="701" x2="571.8" y2="710.2" stroke="#0d0d0d" stroke-width="1.6"/>
<line x1="549.4" y1="700" x2="569.4" y2="694.8" stroke="#2a2a2a" stroke-width="4"/>
<circle cx="569.4" cy="694.8" r="2.5" fill="#484848"/>
<line x1="523.5" y1="743.5" x2="539.1" y2="739.2" stroke="#0d0d0d" stroke-width="1.6"/>
<line x1="523.5" y1="743.5" x2="548.2" y2="737.9" stroke="#0d0d0d" stroke-width="1.6"/>
<line x1="523.5" y1="743.5" x2="544.4" y2="741.3" stroke="#0d0d0d" stroke-width="1.6"/>
<line x1="523.5" y1="743.5" x2="540.2" y2="745.8" stroke="#0d0d0d" stroke-width="1.6"/>
<line x1="523.5" y1="743.5" x2="533.5" y2="736.2" stroke="#0d0d0d" stroke-width="1.6"/>
<line x1="523.5" y1="743.5" x2="544.2" y2="749.4" stroke="#0d0d0d" stroke-width="1.6"/>
<line x1="523.5" y1="743.5" x2="536.7" y2="742.7" stroke="#0d0d0d" stroke-width="1.6"/>
<line x1="523.5" y1="743.5" x2="539.7" y2="737.8" stroke="#0d0d0d" stroke-width="1.6"/>
<line x1="520.5" y1="742.5" x2="540.5" y2="737.3" stroke="#2a2a2a" stroke-width="4"/>
<circle cx="540.5" cy="737.3" r="2.5" fill="#484848"/>
<line x1="552.4" y1="741.3" x2="569.7" y2="737.1" stroke="#0d0d0d" stroke-width="1.6"/>
<line x1="552.4" y1="741.3" x2="572" y2="737.9" stroke="#0d0d0d" stroke-width="1.6"/>
<line x1="552.4" y1="741.3" x2="566" y2="741.3" stroke="#0d0d0d" stroke-width="1.6"/>
<line x1="552.4" y1="741.3" x2="575.9" y2="748.2" stroke="#0d0d0d" stroke-width="1.6"/>
<line x1="552.4" y1="741.3" x2="565.7" y2="738.6" stroke="#0d0d0d" stroke-width="1.6"/>
<line x1="552.4" y1="741.3" x2="565.2" y2="732.4" stroke="#0d0d0d" stroke-width="1.6"/>
<line x1="552.4" y1="741.3" x2="570.3" y2="748.8" stroke="#0d0d0d" stroke-width="1.6"/>
<line x1="552.4" y1="741.3" x2="570.9" y2="744.9" stroke="#0d0d0d" stroke-width="1.6"/>
<line x1="549.4" y1="740.3" x2="569.4" y2="735.1" stroke="#2a2a2a" stroke-width="4"/>
<circle cx="569.4" cy="735.1" r="2.5" fill="#484848"/>
<line x1="523.5" y1="783.8" x2="538.4" y2="780.8" stroke="#0d0d0d" stroke-width="1.6"/>
<line x1="523.5" y1="783.8" x2="536.7" y2="780.8" stroke="#0d0d0d" stroke-width="1.6"/>
<line x1="523.5" y1="783.8" x2="543.5" y2="780.9" stroke="#0d0d0d" stroke-width="1.6"/>
<line x1="523.5" y1="783.8" x2="539.7" y2="791" stroke="#0d0d0d" stroke-width="1.6"/>
<line x1="523.5" y1="783.8" x2="540" y2="791.4" stroke="#0d0d0d" stroke-width="1.6"/>
<line x1="523.5" y1="783.8" x2="539.7" y2="772.6" stroke="#0d0d0d" stroke-width="1.6"/>
<line x1="523.5" y1="783.8" x2="544.2" y2="774.8" stroke="#0d0d0d" stroke-width="1.6"/>
<line x1="523.5" y1="783.8" x2="547.6" y2="793.3" stroke="#0d0d0d" stroke-width="1.6"/>
<line x1="520.5" y1="782.8" x2="540.5" y2="777.6" stroke="#2a2a2a" stroke-width="4"/>
<circle cx="540.5" cy="777.6" r="2.5" fill="#484848"/>
<line x1="552.4" y1="781.6" x2="564.7" y2="776.1" stroke="#0d0d0d" stroke-width="1.6"/>
<line x1="552.4" y1="781.6" x2="567.2" y2="772.2" stroke="#0d0d0d" stroke-width="1.6"/>
<line x1="552.4" y1="781.6" x2="576.7" y2="789.1" stroke="#0d0d0d" stroke-width="1.6"/>
<line x1="552.4" y1="781.6" x2="574.7" y2="776.7" stroke="#0d0d0d" stroke-width="1.6"/>
<line x1="552.4" y1="781.6" x2="573.9" y2="789.3" stroke="#0d0d0d" stroke-width="1.6"/>
<line x1="552.4" y1="781.6" x2="566.2" y2="788.2" stroke="#0d0d0d" stroke-width="1.6"/>
<line x1="552.4" y1="781.6" x2="564.6" y2="782" stroke="#0d0d0d" stroke-width="1.6"/>
<line x1="552.4" y1="781.6" x2="566.9" y2="777.8" stroke="#0d0d0d" stroke-width="1.6"/>
<line x1="549.4" y1="780.6" x2="569.4" y2="775.4" stroke="#2a2a2a" stroke-width="4"/>
<circle cx="569.4" cy="775.4" r="2.5" fill="#484848"/>
</g>
<rect x="341" y="428" width="21" height="380" fill="#0e0e0e" opacity="0.8"/>
<rect x="572" y="428" width="23" height="380" fill="#0e0e0e" opacity="0.8"/>
<path d="M341,412 L595,412 L595,430 Q560,424 468,420 Q400,430 341,432 Z" fill="#0e0e0e" opacity="0.6"/>
<path d="M364.2,404 C364.4,402.3 364.9,397.3 365.6,394 C366.3,390.7 367.1,387.7 368.2,384 C369.3,380.3 370.6,375.7 372,372 C373.4,368.3 375.2,364.6 376.7,362 C378.2,359.4 379.1,357.7 381,356.3 C382.9,354.9 384.8,354.1 388,353.4 C391.2,352.7 393,352.6 400,352.2 C407,351.8 418.6,351.4 430,351.1 C441.4,350.8 455.6,350.6 468.3,350.6 C481,350.6 494.6,350.8 506,351.1 C517.4,351.4 529.5,351.8 536.6,352.2 C543.7,352.6 545.4,352.7 548.6,353.4 C551.8,354.1 553.7,354.9 555.6,356.3 C557.5,357.7 558.4,359.4 559.9,362 C561.4,364.6 563.2,368.3 564.6,372 C566,375.7 567.3,380.3 568.4,384 C569.5,387.7 570.3,390.7 571,394 C571.7,397.3 572.2,402.3 572.4,404 Z" fill="url(#gCap)"/>
<path d="M381,357.5 C382.2,357 384.8,355.3 388,354.6 C391.2,353.9 393,353.8 400,353.4 C407,353 418.6,352.6 430,352.3 C441.4,352 455.6,351.8 468.3,351.8 C481,351.8 494.6,352 506,352.3 C517.4,352.6 529.5,353 536.6,353.4 C543.7,353.8 545.4,353.9 548.6,354.6 C551.8,355.3 554.4,357 555.6,357.5" fill="none" stroke="#343434" stroke-width="1.6" opacity="0.7"/>
<path d="M336.8,413 C336.8,407.5 340,405.3 347,404.6 Q467.5,398 588,404.6 C595,405.3 598.2,407.5 598.2,413 L598.2,421 C598.2,424 597,425.3 594,425.3 A126.5,12 0 0 0 341,425.3 C338,425.3 336.8,424 336.8,421 Z" fill="url(#gFl)"/>
<path d="M340,408.5 Q467.5,401 595,408.5" fill="none" stroke="#2e2e2e" stroke-width="1.6" opacity="0.8"/>
<path d="M336.7,830.5 C336.8,831.8 336.8,834.5 337.3,838.3 C337.9,842.1 339,848 340,853.3 C341,858.6 341.8,865 343.3,870 C344.8,875 346.7,878.8 349.2,883.3 C351.7,887.8 354.8,892.2 358.3,896.7 C361.8,901.2 366.1,905.6 370,910 C373.9,914.4 378.4,918.8 381.7,923.3 C385,927.8 387.8,932.5 390,936.7 C392.2,940.9 393.6,944.2 395,948.3 C396.4,952.3 397.8,958.9 398.3,961 L538.5,961 C538.8,958.9 539.4,952.3 540.5,948.3 C541.6,944.2 542.9,940.9 545,936.7 C547.1,932.5 550,927.8 553.3,923.3 C556.6,918.8 561.1,914.4 565,910 C568.9,905.6 573.2,901.2 576.7,896.7 C580.2,892.2 583.3,887.8 585.8,883.3 C588.3,878.8 590.2,875 591.7,870 C593.2,865 594.1,858.6 595,853.3 C595.9,848 596.6,842.3 597,838.3 C597.4,834.3 597.5,830.7 597.6,829.2 A130.5,10.5 0 0 1 336.7,830.5 Z" fill="url(#gCol)"/>
<path d="M339.5,832 A128,9 0 0 0 595,831" fill="none" stroke="#3a3a3a" stroke-width="1"/>
<path d="M338.2,843 A130.5,10.5 0 0 0 596.4,842" fill="none" stroke="#363636" stroke-width="1.2" opacity="0.7"/>
<g id="logo" fill="#bdbdbd" stroke="#9a9a9a" stroke-width="0.7">
<polygon points="448.8,872.8 456.5,877.2 456.5,886.2 448.8,890.6 441.1,886.2 441.1,877.2" stroke="none"/>
<polygon points="465,872.8 472.7,877.2 472.7,886.2 465,890.6 457.3,886.2 457.3,877.2" stroke="none"/>
<polygon points="482.8,883.6 490.5,888 490.5,897 482.8,901.4 475.1,897 475.1,888" stroke="none"/>
<line x1="441" y1="877.2" x2="436" y2="873.5"/><circle cx="435.8" cy="873.3" r="1" stroke="none" fill="#999"/>
<line x1="472.8" y1="877.2" x2="477.8" y2="874.3"/><circle cx="478" cy="874.2" r="1" stroke="none" fill="#999"/>
<line x1="448.6" y1="890.6" x2="448.4" y2="893.4"/>
<line x1="490.6" y1="897" x2="494.5" y2="899.4"/><circle cx="494.7" cy="899.5" r="1" stroke="none" fill="#999"/>
</g>
</g>
<text x="405.8" y="917.5" font-size="16" fill="#d2d2d2" stroke="#2d2d2d" stroke-width="0.55" textLength="122.5" lengthAdjust="spacing">HAIR LAB EX</text>
<text x="438.7" y="924.6" font-size="4.6" fill="#bbb" textLength="58" lengthAdjust="spacing">HAIR IS CHEMISTRY</text>
<g id="labels" fill="none" stroke="#0a0a0a" stroke-width="3.6">
<polyline points="540.2,331 542.3,216.8 755,216.8" stroke-linejoin="miter"/>
<line x1="34" y1="478" x2="249.2" y2="478"/>
<line x1="108" y1="609.4" x2="269.5" y2="609.4"/>
<line x1="686" y1="513.4" x2="829" y2="513.4"/>
<line x1="690.7" y1="647.7" x2="833" y2="647.7"/>
<line x1="663.3" y1="753.3" x2="805.5" y2="753.3"/>
<circle cx="761" cy="216.8" r="5.1" stroke-width="3.4" fill="#fff"/>
<circle cx="28.4" cy="478.1" r="5.1" stroke-width="3.4" fill="#fff"/>
<circle cx="102.5" cy="610" r="5.1" stroke-width="3.4" fill="#fff"/>
<circle cx="834.7" cy="513.4" r="5.1" stroke-width="3.4" fill="#fff"/>
<circle cx="838.7" cy="647.7" r="5.1" stroke-width="3.4" fill="#fff"/>
<circle cx="811" cy="753.3" r="5.1" stroke-width="3.4" fill="#fff"/>
</g>
<text x="686" y="238.8" font-size="22.3" textLength="220" lengthAdjust="spacing" fill="#1a1a1a">Long &amp; Short Bristles</text>
<text x="48" y="508.3" font-size="22.3" textLength="222" lengthAdjust="spacing" fill="#1a1a1a">Reduces Drying Time</text>
<text x="739.6" y="535.6" font-size="22.3" textLength="182.8" lengthAdjust="spacing" fill="#1a1a1a">Large Oval Barrel</text>
<text x="786.4" y="669.3" font-size="22.3" textLength="155.6" lengthAdjust="spacing" fill="#1a1a1a">Added Volume</text>
<text x="763" y="778" font-size="22.3" textLength="152.4" lengthAdjust="spacing" fill="#1a1a1a">Smooth Finish</text>
<text x="135.5" y="635.8" font-size="16.8" textLength="42" lengthAdjust="spacing" fill="#1a1a1a">4 in 1</text>
<text x="54" y="654.6" font-size="17.4" textLength="211" lengthAdjust="spacing" fill="#1a1a1a">Round Brush ,Blow Dryer,</text>
<text x="65.5" y="673.4" font-size="17.4" textLength="190.5" lengthAdjust="spacing" fill="#1a1a1a">Straightener and Curler</text>
</svg>
</body></html>
